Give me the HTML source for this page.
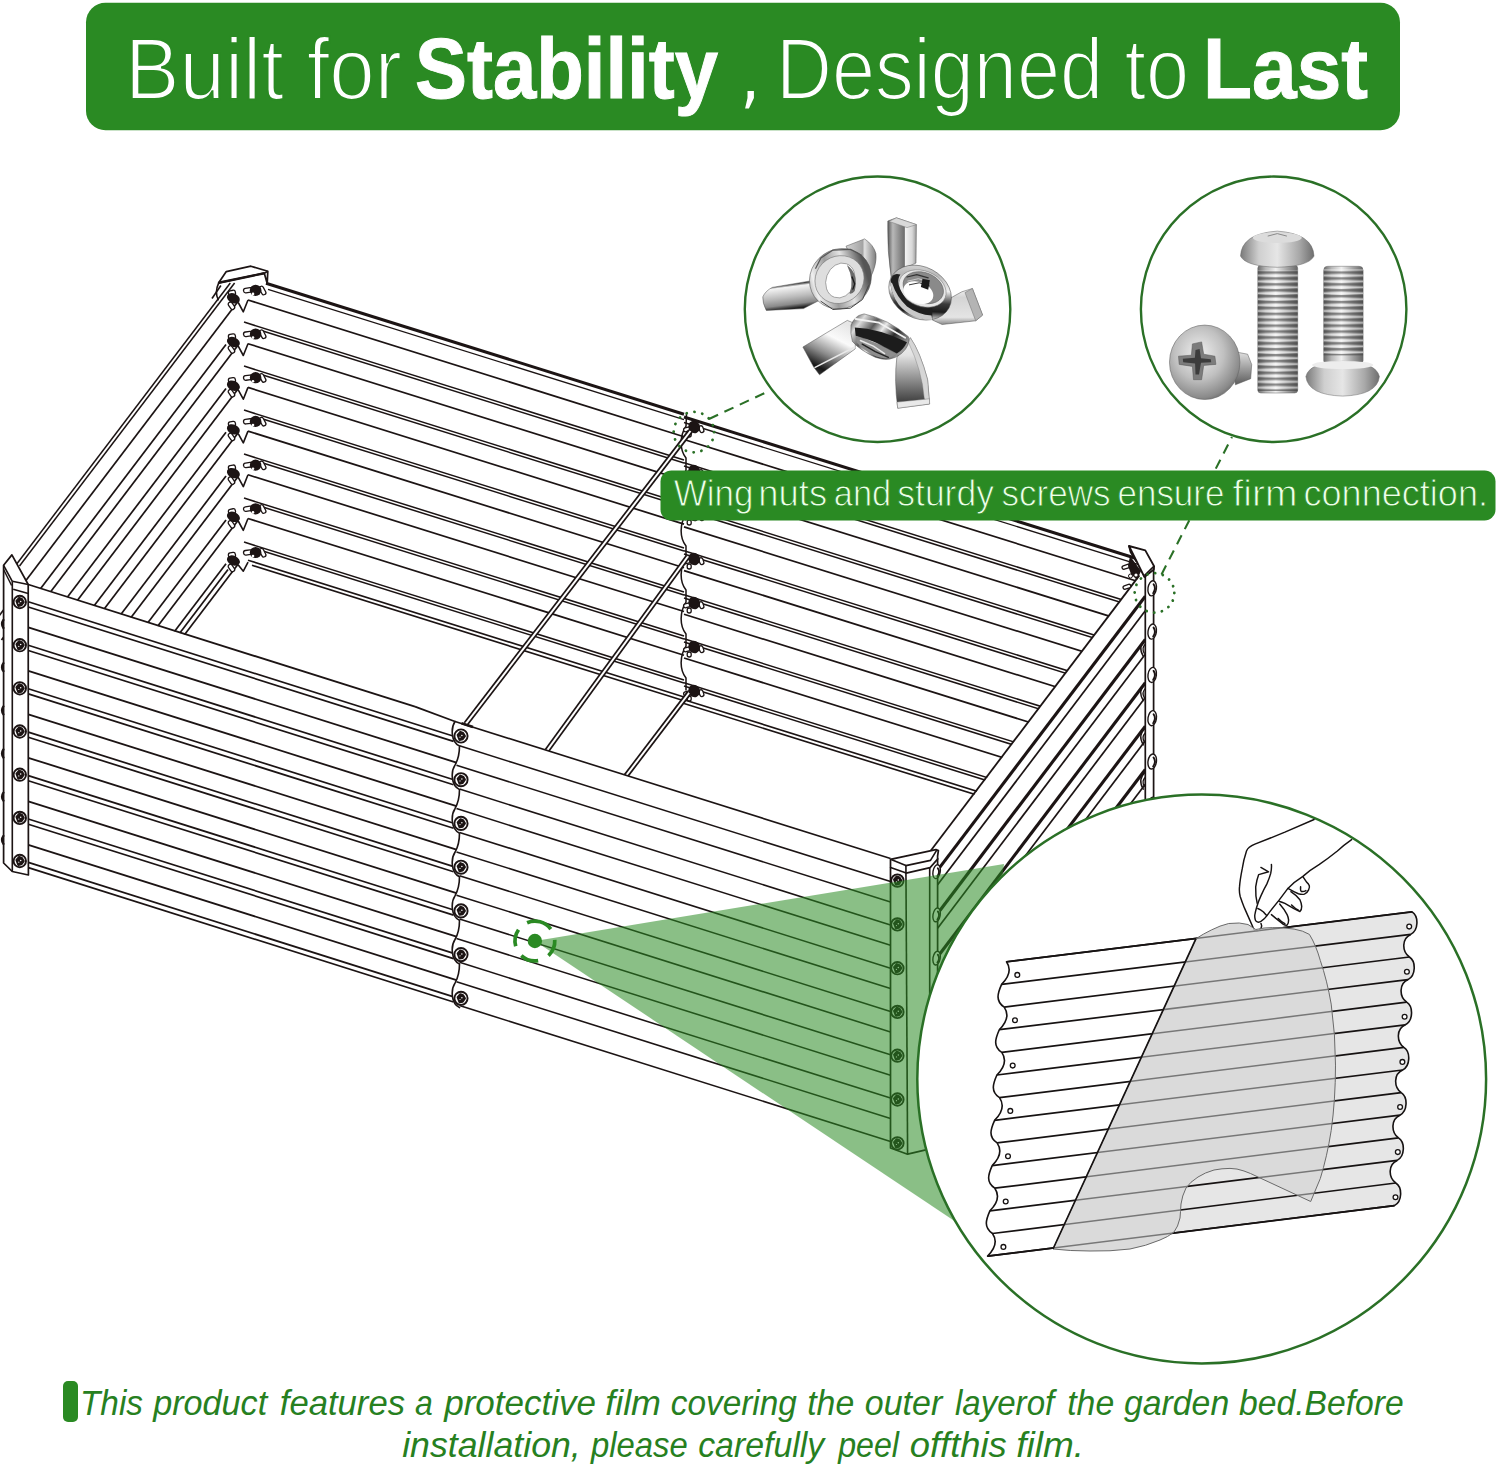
<!DOCTYPE html>
<html><head><meta charset="utf-8"><title>Built for Stability</title>
<style>html,body{margin:0;padding:0;background:#fff}body{width:1500px;height:1468px;position:relative;overflow:hidden;font-family:"Liberation Sans",sans-serif}</style>
</head><body>
<svg width="1500" height="1468" viewBox="0 0 1500 1468" style="position:absolute;left:0;top:0">
<rect width="1500" height="1468" fill="#fff"/>
<line x1="266.0" y1="283.2" x2="684.0" y2="414.2" stroke="#1c1414" stroke-width="3.02" />
<line x1="684.0" y1="417.0" x2="1150.0" y2="562.7" stroke="#1c1414" stroke-width="3.02" />
<line x1="268.0" y1="289.3" x2="684.0" y2="419.7" stroke="#1c1414" stroke-width="1.32" />
<line x1="684.0" y1="422.5" x2="1150.0" y2="568.2" stroke="#1c1414" stroke-width="1.32" />
<line x1="248.0" y1="300.0" x2="684.0" y2="436.7" stroke="#1c1414" stroke-width="1.72" />
<line x1="684.0" y1="439.5" x2="1150.0" y2="585.2" stroke="#1c1414" stroke-width="1.72" />
<line x1="248.0" y1="343.7" x2="684.0" y2="480.4" stroke="#1c1414" stroke-width="1.72" />
<line x1="684.0" y1="483.2" x2="1150.0" y2="628.9" stroke="#1c1414" stroke-width="1.72" />
<line x1="248.0" y1="387.4" x2="684.0" y2="524.1" stroke="#1c1414" stroke-width="1.72" />
<line x1="684.0" y1="526.9" x2="1150.0" y2="672.6" stroke="#1c1414" stroke-width="1.72" />
<line x1="248.0" y1="431.1" x2="684.0" y2="567.8" stroke="#1c1414" stroke-width="1.72" />
<line x1="684.0" y1="570.6" x2="1150.0" y2="716.3" stroke="#1c1414" stroke-width="1.72" />
<line x1="248.0" y1="474.8" x2="684.0" y2="611.5" stroke="#1c1414" stroke-width="1.72" />
<line x1="684.0" y1="614.3" x2="1150.0" y2="760.0" stroke="#1c1414" stroke-width="1.72" />
<line x1="248.0" y1="518.5" x2="684.0" y2="655.2" stroke="#1c1414" stroke-width="1.72" />
<line x1="684.0" y1="658.0" x2="1150.0" y2="803.7" stroke="#1c1414" stroke-width="1.72" />
<line x1="248.0" y1="560.2" x2="684.0" y2="696.9" stroke="#1c1414" stroke-width="1.62" />
<line x1="684.0" y1="699.7" x2="1150.0" y2="845.4" stroke="#1c1414" stroke-width="1.62" />
<line x1="252.0" y1="565.3" x2="684.0" y2="700.7" stroke="#1c1414" stroke-width="1.62" />
<line x1="684.0" y1="703.5" x2="1150.0" y2="849.2" stroke="#1c1414" stroke-width="1.62" />
<line x1="244.0" y1="322.1" x2="684.0" y2="460.0" stroke="#1c1414" stroke-width="1.52" />
<line x1="684.0" y1="462.8" x2="1150.0" y2="608.5" stroke="#1c1414" stroke-width="1.52" />
<line x1="262.0" y1="330.8" x2="684.0" y2="463.1" stroke="#1c1414" stroke-width="1.52" />
<line x1="684.0" y1="465.9" x2="1150.0" y2="611.6" stroke="#1c1414" stroke-width="1.52" />
<line x1="244.0" y1="366.1" x2="684.0" y2="504.0" stroke="#1c1414" stroke-width="1.52" />
<line x1="684.0" y1="506.8" x2="1150.0" y2="652.5" stroke="#1c1414" stroke-width="1.52" />
<line x1="262.0" y1="374.8" x2="684.0" y2="507.1" stroke="#1c1414" stroke-width="1.52" />
<line x1="684.0" y1="509.9" x2="1150.0" y2="655.6" stroke="#1c1414" stroke-width="1.52" />
<line x1="244.0" y1="410.1" x2="684.0" y2="548.0" stroke="#1c1414" stroke-width="1.52" />
<line x1="684.0" y1="550.8" x2="1150.0" y2="696.5" stroke="#1c1414" stroke-width="1.52" />
<line x1="262.0" y1="418.8" x2="684.0" y2="551.1" stroke="#1c1414" stroke-width="1.52" />
<line x1="684.0" y1="553.9" x2="1150.0" y2="699.6" stroke="#1c1414" stroke-width="1.52" />
<line x1="244.0" y1="454.1" x2="684.0" y2="592.0" stroke="#1c1414" stroke-width="1.52" />
<line x1="684.0" y1="594.8" x2="1150.0" y2="740.5" stroke="#1c1414" stroke-width="1.52" />
<line x1="262.0" y1="462.8" x2="684.0" y2="595.1" stroke="#1c1414" stroke-width="1.52" />
<line x1="684.0" y1="597.9" x2="1150.0" y2="743.6" stroke="#1c1414" stroke-width="1.52" />
<line x1="244.0" y1="498.1" x2="684.0" y2="636.0" stroke="#1c1414" stroke-width="1.52" />
<line x1="684.0" y1="638.8" x2="1150.0" y2="784.5" stroke="#1c1414" stroke-width="1.52" />
<line x1="262.0" y1="506.8" x2="684.0" y2="639.1" stroke="#1c1414" stroke-width="1.52" />
<line x1="684.0" y1="641.9" x2="1150.0" y2="787.6" stroke="#1c1414" stroke-width="1.52" />
<line x1="244.0" y1="542.1" x2="684.0" y2="680.0" stroke="#1c1414" stroke-width="1.52" />
<line x1="684.0" y1="682.8" x2="1150.0" y2="828.5" stroke="#1c1414" stroke-width="1.52" />
<line x1="262.0" y1="550.8" x2="684.0" y2="683.1" stroke="#1c1414" stroke-width="1.52" />
<line x1="684.0" y1="685.9" x2="1150.0" y2="831.6" stroke="#1c1414" stroke-width="1.52" />
<line x1="230.3" y1="283.0" x2="15.2" y2="566.0" stroke="#1c1414" stroke-width="1.52" />
<line x1="234.6" y1="283.0" x2="19.5" y2="566.0" stroke="#1c1414" stroke-width="1.52" />
<line x1="238.0" y1="301.4" x2="-19.3" y2="640.0" stroke="#1c1414" stroke-width="1.72" />
<line x1="238.0" y1="345.3" x2="14.0" y2="640.0" stroke="#1c1414" stroke-width="1.72" />
<line x1="238.0" y1="389.1" x2="47.3" y2="640.0" stroke="#1c1414" stroke-width="1.72" />
<line x1="238.0" y1="432.9" x2="80.6" y2="640.0" stroke="#1c1414" stroke-width="1.72" />
<line x1="238.0" y1="476.7" x2="113.9" y2="640.0" stroke="#1c1414" stroke-width="1.72" />
<line x1="238.0" y1="520.5" x2="147.2" y2="640.0" stroke="#1c1414" stroke-width="1.72" />
<line x1="238.0" y1="564.3" x2="180.5" y2="640.0" stroke="#1c1414" stroke-width="1.72" />
<line x1="226.0" y1="344.6" x2="1.5" y2="640.0" stroke="#1c1414" stroke-width="1.72" />
<line x1="226.0" y1="388.4" x2="34.8" y2="640.0" stroke="#1c1414" stroke-width="1.72" />
<line x1="226.0" y1="432.2" x2="68.1" y2="640.0" stroke="#1c1414" stroke-width="1.72" />
<line x1="226.0" y1="476.1" x2="101.4" y2="640.0" stroke="#1c1414" stroke-width="1.72" />
<line x1="226.0" y1="519.9" x2="134.7" y2="640.0" stroke="#1c1414" stroke-width="1.72" />
<line x1="226.0" y1="563.7" x2="168.0" y2="640.0" stroke="#1c1414" stroke-width="1.72" />
<line x1="228.0" y1="569.6" x2="174.5" y2="640.0" stroke="#1c1414" stroke-width="1.72" />
<path d="M238.5 303.0 L243.3 311.8 L247.8 300.5" fill="none" stroke="#1c1414" stroke-width="1.62" stroke-linejoin="round" stroke-linecap="round" />
<g transform="translate(233.4 298.3)"><rect x="-4" y="-8" width="7" height="5" rx="2" fill="#fff" stroke="#1c1414" stroke-width="1.3" transform="rotate(-10)"/><rect x="-8" y="1" width="4.2" height="8" rx="2" fill="#fff" stroke="#1c1414" stroke-width="1.3" transform="rotate(-35)"/><ellipse rx="6.8" ry="4.8" fill="#1c1414" transform="rotate(25)"/></g>
<g transform="translate(255.6 290.3)"><rect x="-12" y="-3.4" width="9" height="4.6" rx="2.2" fill="#fff" stroke="#1c1414" stroke-width="1.3" transform="rotate(-8)"/><rect x="4" y="-1" width="4.2" height="9" rx="2" fill="#fff" stroke="#1c1414" stroke-width="1.3" transform="rotate(-28)"/><ellipse rx="5.8" ry="5.6" fill="#1c1414"/><circle cx="-2.6" cy="3.6" r="1.3" fill="#fff"/></g>
<path d="M238.5 346.7 L243.3 355.5 L247.8 344.2" fill="none" stroke="#1c1414" stroke-width="1.62" stroke-linejoin="round" stroke-linecap="round" />
<g transform="translate(233.4 342.0)"><rect x="-4" y="-8" width="7" height="5" rx="2" fill="#fff" stroke="#1c1414" stroke-width="1.3" transform="rotate(-10)"/><rect x="-8" y="1" width="4.2" height="8" rx="2" fill="#fff" stroke="#1c1414" stroke-width="1.3" transform="rotate(-35)"/><ellipse rx="6.8" ry="4.8" fill="#1c1414" transform="rotate(25)"/></g>
<g transform="translate(255.6 334.0)"><rect x="-12" y="-3.4" width="9" height="4.6" rx="2.2" fill="#fff" stroke="#1c1414" stroke-width="1.3" transform="rotate(-8)"/><rect x="4" y="-1" width="4.2" height="9" rx="2" fill="#fff" stroke="#1c1414" stroke-width="1.3" transform="rotate(-28)"/><ellipse rx="5.8" ry="5.6" fill="#1c1414"/><circle cx="-2.6" cy="3.6" r="1.3" fill="#fff"/></g>
<path d="M238.5 390.4 L243.3 399.2 L247.8 387.9" fill="none" stroke="#1c1414" stroke-width="1.62" stroke-linejoin="round" stroke-linecap="round" />
<g transform="translate(233.4 385.7)"><rect x="-4" y="-8" width="7" height="5" rx="2" fill="#fff" stroke="#1c1414" stroke-width="1.3" transform="rotate(-10)"/><rect x="-8" y="1" width="4.2" height="8" rx="2" fill="#fff" stroke="#1c1414" stroke-width="1.3" transform="rotate(-35)"/><ellipse rx="6.8" ry="4.8" fill="#1c1414" transform="rotate(25)"/></g>
<g transform="translate(255.6 377.7)"><rect x="-12" y="-3.4" width="9" height="4.6" rx="2.2" fill="#fff" stroke="#1c1414" stroke-width="1.3" transform="rotate(-8)"/><rect x="4" y="-1" width="4.2" height="9" rx="2" fill="#fff" stroke="#1c1414" stroke-width="1.3" transform="rotate(-28)"/><ellipse rx="5.8" ry="5.6" fill="#1c1414"/><circle cx="-2.6" cy="3.6" r="1.3" fill="#fff"/></g>
<path d="M238.5 434.1 L243.3 442.9 L247.8 431.6" fill="none" stroke="#1c1414" stroke-width="1.62" stroke-linejoin="round" stroke-linecap="round" />
<g transform="translate(233.4 429.4)"><rect x="-4" y="-8" width="7" height="5" rx="2" fill="#fff" stroke="#1c1414" stroke-width="1.3" transform="rotate(-10)"/><rect x="-8" y="1" width="4.2" height="8" rx="2" fill="#fff" stroke="#1c1414" stroke-width="1.3" transform="rotate(-35)"/><ellipse rx="6.8" ry="4.8" fill="#1c1414" transform="rotate(25)"/></g>
<g transform="translate(255.6 421.4)"><rect x="-12" y="-3.4" width="9" height="4.6" rx="2.2" fill="#fff" stroke="#1c1414" stroke-width="1.3" transform="rotate(-8)"/><rect x="4" y="-1" width="4.2" height="9" rx="2" fill="#fff" stroke="#1c1414" stroke-width="1.3" transform="rotate(-28)"/><ellipse rx="5.8" ry="5.6" fill="#1c1414"/><circle cx="-2.6" cy="3.6" r="1.3" fill="#fff"/></g>
<path d="M238.5 477.8 L243.3 486.6 L247.8 475.3" fill="none" stroke="#1c1414" stroke-width="1.62" stroke-linejoin="round" stroke-linecap="round" />
<g transform="translate(233.4 473.1)"><rect x="-4" y="-8" width="7" height="5" rx="2" fill="#fff" stroke="#1c1414" stroke-width="1.3" transform="rotate(-10)"/><rect x="-8" y="1" width="4.2" height="8" rx="2" fill="#fff" stroke="#1c1414" stroke-width="1.3" transform="rotate(-35)"/><ellipse rx="6.8" ry="4.8" fill="#1c1414" transform="rotate(25)"/></g>
<g transform="translate(255.6 465.1)"><rect x="-12" y="-3.4" width="9" height="4.6" rx="2.2" fill="#fff" stroke="#1c1414" stroke-width="1.3" transform="rotate(-8)"/><rect x="4" y="-1" width="4.2" height="9" rx="2" fill="#fff" stroke="#1c1414" stroke-width="1.3" transform="rotate(-28)"/><ellipse rx="5.8" ry="5.6" fill="#1c1414"/><circle cx="-2.6" cy="3.6" r="1.3" fill="#fff"/></g>
<path d="M238.5 521.5 L243.3 530.3 L247.8 519.0" fill="none" stroke="#1c1414" stroke-width="1.62" stroke-linejoin="round" stroke-linecap="round" />
<g transform="translate(233.4 516.8)"><rect x="-4" y="-8" width="7" height="5" rx="2" fill="#fff" stroke="#1c1414" stroke-width="1.3" transform="rotate(-10)"/><rect x="-8" y="1" width="4.2" height="8" rx="2" fill="#fff" stroke="#1c1414" stroke-width="1.3" transform="rotate(-35)"/><ellipse rx="6.8" ry="4.8" fill="#1c1414" transform="rotate(25)"/></g>
<g transform="translate(255.6 508.8)"><rect x="-12" y="-3.4" width="9" height="4.6" rx="2.2" fill="#fff" stroke="#1c1414" stroke-width="1.3" transform="rotate(-8)"/><rect x="4" y="-1" width="4.2" height="9" rx="2" fill="#fff" stroke="#1c1414" stroke-width="1.3" transform="rotate(-28)"/><ellipse rx="5.8" ry="5.6" fill="#1c1414"/><circle cx="-2.6" cy="3.6" r="1.3" fill="#fff"/></g>
<path d="M238.5 565.2 L243.3 571.2 L247.8 562.7" fill="none" stroke="#1c1414" stroke-width="1.62" stroke-linejoin="round" stroke-linecap="round" />
<g transform="translate(233.4 560.5)"><rect x="-4" y="-8" width="7" height="5" rx="2" fill="#fff" stroke="#1c1414" stroke-width="1.3" transform="rotate(-10)"/><rect x="-8" y="1" width="4.2" height="8" rx="2" fill="#fff" stroke="#1c1414" stroke-width="1.3" transform="rotate(-35)"/><ellipse rx="6.8" ry="4.8" fill="#1c1414" transform="rotate(25)"/></g>
<g transform="translate(255.6 552.5)"><rect x="-12" y="-3.4" width="9" height="4.6" rx="2.2" fill="#fff" stroke="#1c1414" stroke-width="1.3" transform="rotate(-8)"/><rect x="4" y="-1" width="4.2" height="9" rx="2" fill="#fff" stroke="#1c1414" stroke-width="1.3" transform="rotate(-28)"/><ellipse rx="5.8" ry="5.6" fill="#1c1414"/><circle cx="-2.6" cy="3.6" r="1.3" fill="#fff"/></g>
<path d="M218.7 282.8 L226.3 271.6 L250.9 266.2 L267.8 271.3 L267.2 283.6 L264.3 273.2 Z" fill="#fff" stroke="#1c1414" stroke-width="1.72" stroke-linejoin="round" />
<line x1="218.7" y1="282.8" x2="264.3" y2="273.2" stroke="#1c1414" stroke-width="2.42" />
<line x1="264.3" y1="273.2" x2="267.8" y2="271.3" stroke="#1c1414" stroke-width="1.62" />
<path d="M218.7 282.8 Q214.5 292 218.2 299.7" fill="none" stroke="#1c1414" stroke-width="1.62" stroke-linejoin="round" stroke-linecap="round" />
<line x1="220.9" y1="285.5" x2="212.0" y2="298.5" stroke="#1c1414" stroke-width="1.62" />
<path d="M686.5 414.1 L686.0 426.1 C679.5 436.1 679.5 450.1 686.0 458.1 L686.0 470.1 C679.5 480.1 679.5 494.1 686.0 502.1 L686.0 514.1 C679.5 524.1 679.5 538.1 686.0 546.1 L686.0 558.1 C679.5 568.1 679.5 582.1 686.0 590.1 L686.0 602.1 C679.5 612.1 679.5 626.1 686.0 634.1 L686.0 646.1 C679.5 656.1 679.5 670.1 686.0 678.1 L686.0 690.1" fill="none" stroke="#1c1414" stroke-width="1.52" stroke-linejoin="round" stroke-linecap="round" />
<g transform="translate(694.2 427.0)"><rect x="-11" y="-1.5" width="7" height="4" rx="2" fill="#fff" stroke="#1c1414" stroke-width="1.3" transform="rotate(-15)"/><rect x="4" y="1" width="4" height="7" rx="2" fill="#fff" stroke="#1c1414" stroke-width="1.3" transform="rotate(-20)"/><rect x="-7" y="5" width="4" height="5" rx="2" fill="#fff" stroke="#1c1414" stroke-width="1.3"/><ellipse rx="5.8" ry="6.4" fill="#1c1414" transform="rotate(-25)"/></g>
<g transform="translate(694.2 471.0)"><rect x="-11" y="-1.5" width="7" height="4" rx="2" fill="#fff" stroke="#1c1414" stroke-width="1.3" transform="rotate(-15)"/><rect x="4" y="1" width="4" height="7" rx="2" fill="#fff" stroke="#1c1414" stroke-width="1.3" transform="rotate(-20)"/><rect x="-7" y="5" width="4" height="5" rx="2" fill="#fff" stroke="#1c1414" stroke-width="1.3"/><ellipse rx="5.8" ry="6.4" fill="#1c1414" transform="rotate(-25)"/></g>
<g transform="translate(694.2 515.0)"><rect x="-11" y="-1.5" width="7" height="4" rx="2" fill="#fff" stroke="#1c1414" stroke-width="1.3" transform="rotate(-15)"/><rect x="4" y="1" width="4" height="7" rx="2" fill="#fff" stroke="#1c1414" stroke-width="1.3" transform="rotate(-20)"/><rect x="-7" y="5" width="4" height="5" rx="2" fill="#fff" stroke="#1c1414" stroke-width="1.3"/><ellipse rx="5.8" ry="6.4" fill="#1c1414" transform="rotate(-25)"/></g>
<g transform="translate(694.2 559.0)"><rect x="-11" y="-1.5" width="7" height="4" rx="2" fill="#fff" stroke="#1c1414" stroke-width="1.3" transform="rotate(-15)"/><rect x="4" y="1" width="4" height="7" rx="2" fill="#fff" stroke="#1c1414" stroke-width="1.3" transform="rotate(-20)"/><rect x="-7" y="5" width="4" height="5" rx="2" fill="#fff" stroke="#1c1414" stroke-width="1.3"/><ellipse rx="5.8" ry="6.4" fill="#1c1414" transform="rotate(-25)"/></g>
<g transform="translate(694.2 603.0)"><rect x="-11" y="-1.5" width="7" height="4" rx="2" fill="#fff" stroke="#1c1414" stroke-width="1.3" transform="rotate(-15)"/><rect x="4" y="1" width="4" height="7" rx="2" fill="#fff" stroke="#1c1414" stroke-width="1.3" transform="rotate(-20)"/><rect x="-7" y="5" width="4" height="5" rx="2" fill="#fff" stroke="#1c1414" stroke-width="1.3"/><ellipse rx="5.8" ry="6.4" fill="#1c1414" transform="rotate(-25)"/></g>
<g transform="translate(694.2 647.0)"><rect x="-11" y="-1.5" width="7" height="4" rx="2" fill="#fff" stroke="#1c1414" stroke-width="1.3" transform="rotate(-15)"/><rect x="4" y="1" width="4" height="7" rx="2" fill="#fff" stroke="#1c1414" stroke-width="1.3" transform="rotate(-20)"/><rect x="-7" y="5" width="4" height="5" rx="2" fill="#fff" stroke="#1c1414" stroke-width="1.3"/><ellipse rx="5.8" ry="6.4" fill="#1c1414" transform="rotate(-25)"/></g>
<g transform="translate(694.2 691.0)"><rect x="-11" y="-1.5" width="7" height="4" rx="2" fill="#fff" stroke="#1c1414" stroke-width="1.3" transform="rotate(-15)"/><rect x="4" y="1" width="4" height="7" rx="2" fill="#fff" stroke="#1c1414" stroke-width="1.3" transform="rotate(-20)"/><rect x="-7" y="5" width="4" height="5" rx="2" fill="#fff" stroke="#1c1414" stroke-width="1.3"/><ellipse rx="5.8" ry="6.4" fill="#1c1414" transform="rotate(-25)"/></g>
<line x1="690.5" y1="431.0" x2="465.8" y2="723.9" stroke="#1c1414" stroke-width="5.4"/>
<line x1="690.5" y1="431.0" x2="465.8" y2="723.9" stroke="#fff" stroke-width="2.0"/>
<line x1="687.5" y1="557.0" x2="546.9" y2="750.6" stroke="#1c1414" stroke-width="5.4"/>
<line x1="687.5" y1="557.0" x2="546.9" y2="750.6" stroke="#fff" stroke-width="2.0"/>
<line x1="689.0" y1="693.0" x2="622.0" y2="781.0" stroke="#1c1414" stroke-width="5.4"/>
<line x1="689.0" y1="693.0" x2="622.0" y2="781.0" stroke="#fff" stroke-width="2.0"/>
<path d="M933.0 849.5 L1139.4 575.4 L1146.0 575.0 L1146.0 880.0 L937.0 1160.0 Z" fill="#fff" stroke="none" stroke-width="1.30" stroke-linejoin="round" />
<line x1="930.5" y1="851.0" x2="1139.4" y2="575.4" stroke="#1c1414" stroke-width="1.82" />
<line x1="938.6" y1="868.9" x2="1145.3" y2="596.2" stroke="#1c1414" stroke-width="3.12" />
<line x1="938.6" y1="912.2" x2="1145.3" y2="639.5" stroke="#1c1414" stroke-width="3.12" />
<line x1="938.6" y1="955.5" x2="1145.3" y2="682.8" stroke="#1c1414" stroke-width="3.12" />
<line x1="938.6" y1="998.9" x2="1145.3" y2="726.2" stroke="#1c1414" stroke-width="3.12" />
<line x1="938.6" y1="1042.2" x2="1145.3" y2="769.5" stroke="#1c1414" stroke-width="3.12" />
<line x1="938.6" y1="1085.6" x2="1145.3" y2="812.9" stroke="#1c1414" stroke-width="3.12" />
<line x1="938.6" y1="1128.9" x2="1145.3" y2="856.2" stroke="#1c1414" stroke-width="3.12" />
<line x1="937.6" y1="884.8" x2="1145.3" y2="610.8" stroke="#1c1414" stroke-width="1.72" />
<line x1="937.6" y1="928.2" x2="1145.3" y2="654.2" stroke="#1c1414" stroke-width="1.72" />
<line x1="937.6" y1="971.5" x2="1145.3" y2="697.5" stroke="#1c1414" stroke-width="1.72" />
<line x1="937.6" y1="1014.8" x2="1145.3" y2="740.8" stroke="#1c1414" stroke-width="1.72" />
<line x1="937.6" y1="1058.2" x2="1145.3" y2="784.2" stroke="#1c1414" stroke-width="1.72" />
<line x1="937.6" y1="1101.5" x2="1145.3" y2="827.5" stroke="#1c1414" stroke-width="1.72" />
<line x1="937.6" y1="1144.9" x2="1145.3" y2="870.8" stroke="#1c1414" stroke-width="1.72" />
<path d="M1145.3 639.3 Q1137.3 646.3 1143.3 656.3" fill="none" stroke="#1c1414" stroke-width="1.42" stroke-linejoin="round" stroke-linecap="round" />
<path d="M1145.3 644.3 Q1141.3 648.3 1144.3 653.3" fill="none" stroke="#1c1414" stroke-width="1.32" stroke-linejoin="round" stroke-linecap="round" />
<path d="M1145.3 683.6 Q1137.3 690.6 1143.3 700.6" fill="none" stroke="#1c1414" stroke-width="1.42" stroke-linejoin="round" stroke-linecap="round" />
<path d="M1145.3 688.6 Q1141.3 692.6 1144.3 697.6" fill="none" stroke="#1c1414" stroke-width="1.32" stroke-linejoin="round" stroke-linecap="round" />
<path d="M1145.3 727.9 Q1137.3 734.9 1143.3 744.9" fill="none" stroke="#1c1414" stroke-width="1.42" stroke-linejoin="round" stroke-linecap="round" />
<path d="M1145.3 732.9 Q1141.3 736.9 1144.3 741.9" fill="none" stroke="#1c1414" stroke-width="1.32" stroke-linejoin="round" stroke-linecap="round" />
<path d="M1145.3 772.2 Q1137.3 779.2 1143.3 789.2" fill="none" stroke="#1c1414" stroke-width="1.42" stroke-linejoin="round" stroke-linecap="round" />
<path d="M1145.3 777.2 Q1141.3 781.2 1144.3 786.2" fill="none" stroke="#1c1414" stroke-width="1.32" stroke-linejoin="round" stroke-linecap="round" />
<path d="M1145.3 816.5 Q1137.3 823.5 1143.3 833.5" fill="none" stroke="#1c1414" stroke-width="1.42" stroke-linejoin="round" stroke-linecap="round" />
<path d="M1145.3 821.5 Q1141.3 825.5 1144.3 830.5" fill="none" stroke="#1c1414" stroke-width="1.32" stroke-linejoin="round" stroke-linecap="round" />
<path d="M1145.3 860.8 Q1137.3 867.8 1143.3 877.8" fill="none" stroke="#1c1414" stroke-width="1.42" stroke-linejoin="round" stroke-linecap="round" />
<path d="M1145.3 865.8 Q1141.3 869.8 1144.3 874.8" fill="none" stroke="#1c1414" stroke-width="1.32" stroke-linejoin="round" stroke-linecap="round" />
<path d="M1145.3 576.0 L1153.6 568.0 L1153.6 880.0 L1145.3 880.0 Z" fill="#fff" stroke="#1c1414" stroke-width="1.72" stroke-linejoin="round" />
<ellipse cx="1152.2" cy="588.3" rx="4.2" ry="7.6" fill="#fff" stroke="#1c1414" stroke-width="1.4" transform="rotate(8 1152.2 588.3)"/>
<path d="M1153.6 584.3 Q1156.5 588.3 1153.2 593.3" fill="none" stroke="#1c1414" stroke-width="1.92" stroke-linejoin="round" stroke-linecap="round" />
<ellipse cx="1152.2" cy="631.6" rx="4.2" ry="7.6" fill="#fff" stroke="#1c1414" stroke-width="1.4" transform="rotate(8 1152.2 631.6)"/>
<path d="M1153.6 627.6 Q1156.5 631.6 1153.2 636.6" fill="none" stroke="#1c1414" stroke-width="1.92" stroke-linejoin="round" stroke-linecap="round" />
<ellipse cx="1152.2" cy="674.9" rx="4.2" ry="7.6" fill="#fff" stroke="#1c1414" stroke-width="1.4" transform="rotate(8 1152.2 674.9)"/>
<path d="M1153.6 670.9 Q1156.5 674.9 1153.2 679.9" fill="none" stroke="#1c1414" stroke-width="1.92" stroke-linejoin="round" stroke-linecap="round" />
<ellipse cx="1152.2" cy="718.2" rx="4.2" ry="7.6" fill="#fff" stroke="#1c1414" stroke-width="1.4" transform="rotate(8 1152.2 718.2)"/>
<path d="M1153.6 714.2 Q1156.5 718.2 1153.2 723.2" fill="none" stroke="#1c1414" stroke-width="1.92" stroke-linejoin="round" stroke-linecap="round" />
<ellipse cx="1152.2" cy="761.5" rx="4.2" ry="7.6" fill="#fff" stroke="#1c1414" stroke-width="1.4" transform="rotate(8 1152.2 761.5)"/>
<path d="M1153.6 757.5 Q1156.5 761.5 1153.2 766.5" fill="none" stroke="#1c1414" stroke-width="1.92" stroke-linejoin="round" stroke-linecap="round" />
<ellipse cx="1152.2" cy="804.8" rx="4.2" ry="7.6" fill="#fff" stroke="#1c1414" stroke-width="1.4" transform="rotate(8 1152.2 804.8)"/>
<path d="M1153.6 800.8 Q1156.5 804.8 1153.2 809.8" fill="none" stroke="#1c1414" stroke-width="1.92" stroke-linejoin="round" stroke-linecap="round" />
<ellipse cx="1152.2" cy="848.1" rx="4.2" ry="7.6" fill="#fff" stroke="#1c1414" stroke-width="1.4" transform="rotate(8 1152.2 848.1)"/>
<path d="M1153.6 844.1 Q1156.5 848.1 1153.2 853.1" fill="none" stroke="#1c1414" stroke-width="1.92" stroke-linejoin="round" stroke-linecap="round" />
<path d="M1129.0 546.0 L1145.3 550.4 L1154.1 566.2 L1153.8 569.5 L1144.4 577.0 Z" fill="#fff" stroke="#1c1414" stroke-width="1.82" stroke-linejoin="round" />
<line x1="1144.4" y1="575.5" x2="1154.1" y2="566.2" stroke="#1c1414" stroke-width="1.72" />
<path d="M1129 546 L1130.5 552 L1136 561" fill="none" stroke="#1c1414" stroke-width="1.72" stroke-linejoin="round" stroke-linecap="round" />
<g><rect x="1122" y="565" width="8" height="3.6" rx="1.8" fill="#fff" stroke="#1c1414" stroke-width="1.3" transform="rotate(-18 1126 567)"/><rect x="1123" y="585" width="8" height="3.6" rx="1.8" fill="#fff" stroke="#1c1414" stroke-width="1.3" transform="rotate(-18 1127 587)"/><path d="M1130 556 L1141 571 L1137 580 L1131 574 L1128 566 Z" fill="#1c1414"/><circle cx="1130.5" cy="576" r="2" fill="#fff" stroke="#1c1414" stroke-width="1"/><circle cx="1136" cy="575" r="1.6" fill="#fff"/></g>
<path d="M28.3 584.5 L455.0 721.5 L890.5 858.5 L890.5 1141.4 L460.0 1005.8 L452.0 1001.5 L28.3 867.6 Z" fill="#fff" stroke="none" stroke-width="1.30" stroke-linejoin="round" />
<line x1="28.3" y1="584.5" x2="415.0" y2="706.7" stroke="#1c1414" stroke-width="1.82" />
<line x1="415.0" y1="706.7" x2="455.0" y2="721.5" stroke="#1c1414" stroke-width="1.82" />
<line x1="28.3" y1="601.8" x2="452.2" y2="735.8" stroke="#1c1414" stroke-width="1.72" />
<line x1="28.3" y1="607.0" x2="453.5" y2="741.4" stroke="#1c1414" stroke-width="1.72" />
<line x1="28.3" y1="645.3" x2="452.2" y2="779.2" stroke="#1c1414" stroke-width="1.72" />
<line x1="28.3" y1="650.5" x2="453.5" y2="784.8" stroke="#1c1414" stroke-width="1.72" />
<line x1="28.3" y1="688.7" x2="452.2" y2="822.7" stroke="#1c1414" stroke-width="1.72" />
<line x1="28.3" y1="693.9" x2="453.5" y2="828.3" stroke="#1c1414" stroke-width="1.72" />
<line x1="28.3" y1="732.1" x2="452.2" y2="866.1" stroke="#1c1414" stroke-width="1.72" />
<line x1="28.3" y1="737.3" x2="453.5" y2="871.7" stroke="#1c1414" stroke-width="1.72" />
<line x1="28.3" y1="775.6" x2="452.2" y2="909.5" stroke="#1c1414" stroke-width="1.72" />
<line x1="28.3" y1="780.8" x2="453.5" y2="915.1" stroke="#1c1414" stroke-width="1.72" />
<line x1="28.3" y1="819.0" x2="452.2" y2="952.9" stroke="#1c1414" stroke-width="1.72" />
<line x1="28.3" y1="824.2" x2="453.5" y2="958.6" stroke="#1c1414" stroke-width="1.72" />
<line x1="28.3" y1="862.4" x2="452.2" y2="996.4" stroke="#1c1414" stroke-width="1.72" />
<line x1="28.3" y1="867.6" x2="453.5" y2="1002.0" stroke="#1c1414" stroke-width="1.72" />
<line x1="28.3" y1="627.3" x2="456.5" y2="762.7" stroke="#1c1414" stroke-width="1.82" />
<line x1="28.3" y1="670.8" x2="456.5" y2="806.2" stroke="#1c1414" stroke-width="1.82" />
<line x1="28.3" y1="714.3" x2="456.5" y2="849.7" stroke="#1c1414" stroke-width="1.82" />
<line x1="28.3" y1="757.8" x2="456.5" y2="893.2" stroke="#1c1414" stroke-width="1.82" />
<line x1="28.3" y1="801.3" x2="456.5" y2="936.7" stroke="#1c1414" stroke-width="1.82" />
<line x1="28.3" y1="844.8" x2="456.5" y2="980.2" stroke="#1c1414" stroke-width="1.82" />
<line x1="455.0" y1="721.5" x2="890.5" y2="858.5" stroke="#1c1414" stroke-width="1.62" />
<line x1="459.5" y1="745.8" x2="890.5" y2="881.6" stroke="#1c1414" stroke-width="1.57" />
<line x1="459.5" y1="789.1" x2="890.5" y2="924.9" stroke="#1c1414" stroke-width="1.57" />
<line x1="459.5" y1="832.4" x2="890.5" y2="968.2" stroke="#1c1414" stroke-width="1.57" />
<line x1="459.5" y1="875.7" x2="890.5" y2="1011.5" stroke="#1c1414" stroke-width="1.57" />
<line x1="459.5" y1="919.0" x2="890.5" y2="1054.8" stroke="#1c1414" stroke-width="1.57" />
<line x1="459.5" y1="962.3" x2="890.5" y2="1098.1" stroke="#1c1414" stroke-width="1.57" />
<line x1="459.5" y1="1005.6" x2="890.5" y2="1141.4" stroke="#1c1414" stroke-width="1.57" />
<line x1="456.5" y1="765.3" x2="890.5" y2="902.0" stroke="#1c1414" stroke-width="1.57" />
<line x1="456.5" y1="808.6" x2="890.5" y2="945.3" stroke="#1c1414" stroke-width="1.57" />
<line x1="456.5" y1="851.9" x2="890.5" y2="988.6" stroke="#1c1414" stroke-width="1.57" />
<line x1="456.5" y1="895.2" x2="890.5" y2="1031.9" stroke="#1c1414" stroke-width="1.57" />
<line x1="456.5" y1="938.5" x2="890.5" y2="1075.2" stroke="#1c1414" stroke-width="1.57" />
<line x1="456.5" y1="981.8" x2="890.5" y2="1118.5" stroke="#1c1414" stroke-width="1.57" />
<line x1="461.5" y1="723.3" x2="473.0" y2="727.0" stroke="#1c1414" stroke-width="2.62" />
<path d="M455.0 721.5 C451.0 727.5 450.5 741.5 459.5 746.0 C459.5 755.5 457.0 761.5 455.0 765.1 C451.0 771.1 450.5 785.1 459.5 789.6 C459.5 799.1 457.0 805.1 455.0 808.7 C451.0 814.7 450.5 828.7 459.5 833.2 C459.5 842.7 457.0 848.7 455.0 852.3 C451.0 858.3 450.5 872.3 459.5 876.8 C459.5 886.3 457.0 892.3 455.0 895.9 C451.0 901.9 450.5 915.9 459.5 920.4 C459.5 929.9 457.0 935.9 455.0 939.5 C451.0 945.5 450.5 959.5 459.5 964.0 C459.5 973.5 457.0 979.5 455.0 983.1 C451.0 989.1 450.5 1003.1 459.5 1007.6" fill="none" stroke="#1c1414" stroke-width="1.62" stroke-linejoin="round" stroke-linecap="round" />
<circle cx="461.0" cy="736.0" r="6.6" fill="#fff" stroke="#1c1414" stroke-width="1.9"/>
<path d="M457.8 735.0 l2.6 -3.0 l2.6 1.0 l1.8 3.0 l-2.2 3.2 l-3.0 .6 z" fill="#1c1414" stroke="#1c1414" stroke-width="2.3" stroke-linejoin="round"/>
<circle cx="461.9" cy="735.4" r="0.75" fill="#fff"/>
<circle cx="460.0" cy="737.2" r="0.6" fill="#fff"/>
<circle cx="461.0" cy="779.7" r="6.6" fill="#fff" stroke="#1c1414" stroke-width="1.9"/>
<path d="M457.8 778.7 l2.6 -3.0 l2.6 1.0 l1.8 3.0 l-2.2 3.2 l-3.0 .6 z" fill="#1c1414" stroke="#1c1414" stroke-width="2.3" stroke-linejoin="round"/>
<circle cx="461.9" cy="779.1" r="0.75" fill="#fff"/>
<circle cx="460.0" cy="780.9" r="0.6" fill="#fff"/>
<circle cx="461.0" cy="823.4" r="6.6" fill="#fff" stroke="#1c1414" stroke-width="1.9"/>
<path d="M457.8 822.4 l2.6 -3.0 l2.6 1.0 l1.8 3.0 l-2.2 3.2 l-3.0 .6 z" fill="#1c1414" stroke="#1c1414" stroke-width="2.3" stroke-linejoin="round"/>
<circle cx="461.9" cy="822.8" r="0.75" fill="#fff"/>
<circle cx="460.0" cy="824.6" r="0.6" fill="#fff"/>
<circle cx="461.0" cy="867.2" r="6.6" fill="#fff" stroke="#1c1414" stroke-width="1.9"/>
<path d="M457.8 866.2 l2.6 -3.0 l2.6 1.0 l1.8 3.0 l-2.2 3.2 l-3.0 .6 z" fill="#1c1414" stroke="#1c1414" stroke-width="2.3" stroke-linejoin="round"/>
<circle cx="461.9" cy="866.6" r="0.75" fill="#fff"/>
<circle cx="460.0" cy="868.4" r="0.6" fill="#fff"/>
<circle cx="461.0" cy="910.9" r="6.6" fill="#fff" stroke="#1c1414" stroke-width="1.9"/>
<path d="M457.8 909.9 l2.6 -3.0 l2.6 1.0 l1.8 3.0 l-2.2 3.2 l-3.0 .6 z" fill="#1c1414" stroke="#1c1414" stroke-width="2.3" stroke-linejoin="round"/>
<circle cx="461.9" cy="910.3" r="0.75" fill="#fff"/>
<circle cx="460.0" cy="912.1" r="0.6" fill="#fff"/>
<circle cx="461.0" cy="954.6" r="6.6" fill="#fff" stroke="#1c1414" stroke-width="1.9"/>
<path d="M457.8 953.6 l2.6 -3.0 l2.6 1.0 l1.8 3.0 l-2.2 3.2 l-3.0 .6 z" fill="#1c1414" stroke="#1c1414" stroke-width="2.3" stroke-linejoin="round"/>
<circle cx="461.9" cy="954.0" r="0.75" fill="#fff"/>
<circle cx="460.0" cy="955.8" r="0.6" fill="#fff"/>
<circle cx="461.0" cy="998.3" r="6.6" fill="#fff" stroke="#1c1414" stroke-width="1.9"/>
<path d="M457.8 997.3 l2.6 -3.0 l2.6 1.0 l1.8 3.0 l-2.2 3.2 l-3.0 .6 z" fill="#1c1414" stroke="#1c1414" stroke-width="2.3" stroke-linejoin="round"/>
<circle cx="461.9" cy="997.7" r="0.75" fill="#fff"/>
<circle cx="460.0" cy="999.5" r="0.6" fill="#fff"/>
<path d="M3.6 565.3 L11.9 554.9 L28.2 584.5 L28.4 875.0 L12.3 871.5 L3.6 863.0 Z" fill="#fff" stroke="#1c1414" stroke-width="1.72" stroke-linejoin="round" />
<line x1="12.3" y1="581.3" x2="12.3" y2="871.5" stroke="#1c1414" stroke-width="1.62" />
<line x1="3.6" y1="565.3" x2="12.3" y2="581.3" stroke="#1c1414" stroke-width="1.62" />
<line x1="12.3" y1="581.3" x2="28.2" y2="584.5" stroke="#1c1414" stroke-width="1.62" />
<line x1="3.6" y1="569.5" x2="11.6" y2="585.5" stroke="#1c1414" stroke-width="1.52" />
<line x1="13.2" y1="589.2" x2="28.2" y2="593.6" stroke="#1c1414" stroke-width="1.52" />
<circle cx="19.8" cy="602.0" r="6.2" fill="#fff" stroke="#1c1414" stroke-width="1.9"/>
<path d="M16.6 601.0 l2.6 -3.0 l2.6 1.0 l1.8 3.0 l-2.2 3.2 l-3.0 .6 z" fill="#1c1414" stroke="#1c1414" stroke-width="2.3" stroke-linejoin="round"/>
<circle cx="20.7" cy="601.4" r="0.75" fill="#fff"/>
<circle cx="18.8" cy="603.2" r="0.6" fill="#fff"/>
<path d="M3.4 620.0 q-2.8 4 0 8" fill="none" stroke="#1c1414" stroke-width="2.22" stroke-linejoin="round" stroke-linecap="round" />
<circle cx="19.8" cy="645.2" r="6.2" fill="#fff" stroke="#1c1414" stroke-width="1.9"/>
<path d="M16.6 644.2 l2.6 -3.0 l2.6 1.0 l1.8 3.0 l-2.2 3.2 l-3.0 .6 z" fill="#1c1414" stroke="#1c1414" stroke-width="2.3" stroke-linejoin="round"/>
<circle cx="20.7" cy="644.6" r="0.75" fill="#fff"/>
<circle cx="18.8" cy="646.4" r="0.6" fill="#fff"/>
<path d="M3.4 663.2 q-2.8 4 0 8" fill="none" stroke="#1c1414" stroke-width="2.22" stroke-linejoin="round" stroke-linecap="round" />
<circle cx="19.8" cy="688.3" r="6.2" fill="#fff" stroke="#1c1414" stroke-width="1.9"/>
<path d="M16.6 687.3 l2.6 -3.0 l2.6 1.0 l1.8 3.0 l-2.2 3.2 l-3.0 .6 z" fill="#1c1414" stroke="#1c1414" stroke-width="2.3" stroke-linejoin="round"/>
<circle cx="20.7" cy="687.7" r="0.75" fill="#fff"/>
<circle cx="18.8" cy="689.5" r="0.6" fill="#fff"/>
<path d="M3.4 706.3 q-2.8 4 0 8" fill="none" stroke="#1c1414" stroke-width="2.22" stroke-linejoin="round" stroke-linecap="round" />
<circle cx="19.8" cy="731.5" r="6.2" fill="#fff" stroke="#1c1414" stroke-width="1.9"/>
<path d="M16.6 730.5 l2.6 -3.0 l2.6 1.0 l1.8 3.0 l-2.2 3.2 l-3.0 .6 z" fill="#1c1414" stroke="#1c1414" stroke-width="2.3" stroke-linejoin="round"/>
<circle cx="20.7" cy="730.9" r="0.75" fill="#fff"/>
<circle cx="18.8" cy="732.7" r="0.6" fill="#fff"/>
<path d="M3.4 749.5 q-2.8 4 0 8" fill="none" stroke="#1c1414" stroke-width="2.22" stroke-linejoin="round" stroke-linecap="round" />
<circle cx="19.8" cy="774.7" r="6.2" fill="#fff" stroke="#1c1414" stroke-width="1.9"/>
<path d="M16.6 773.7 l2.6 -3.0 l2.6 1.0 l1.8 3.0 l-2.2 3.2 l-3.0 .6 z" fill="#1c1414" stroke="#1c1414" stroke-width="2.3" stroke-linejoin="round"/>
<circle cx="20.7" cy="774.1" r="0.75" fill="#fff"/>
<circle cx="18.8" cy="775.9" r="0.6" fill="#fff"/>
<path d="M3.4 792.7 q-2.8 4 0 8" fill="none" stroke="#1c1414" stroke-width="2.22" stroke-linejoin="round" stroke-linecap="round" />
<circle cx="19.8" cy="817.9" r="6.2" fill="#fff" stroke="#1c1414" stroke-width="1.9"/>
<path d="M16.6 816.9 l2.6 -3.0 l2.6 1.0 l1.8 3.0 l-2.2 3.2 l-3.0 .6 z" fill="#1c1414" stroke="#1c1414" stroke-width="2.3" stroke-linejoin="round"/>
<circle cx="20.7" cy="817.2" r="0.75" fill="#fff"/>
<circle cx="18.8" cy="819.1" r="0.6" fill="#fff"/>
<path d="M3.4 835.9 q-2.8 4 0 8" fill="none" stroke="#1c1414" stroke-width="2.22" stroke-linejoin="round" stroke-linecap="round" />
<circle cx="19.8" cy="861.0" r="6.2" fill="#fff" stroke="#1c1414" stroke-width="1.9"/>
<path d="M16.6 860.0 l2.6 -3.0 l2.6 1.0 l1.8 3.0 l-2.2 3.2 l-3.0 .6 z" fill="#1c1414" stroke="#1c1414" stroke-width="2.3" stroke-linejoin="round"/>
<circle cx="20.7" cy="860.4" r="0.75" fill="#fff"/>
<circle cx="18.8" cy="862.2" r="0.6" fill="#fff"/>
<path d="M890.5 859.3 L935.9 849.6 L938.4 850.6 L937.6 856.0 L937.6 1150.0 L924.7 1150.1 L907.6 1154.2 L890.5 1148.0 Z" fill="#fff" stroke="#1c1414" stroke-width="1.72" stroke-linejoin="round" />
<line x1="890.5" y1="859.3" x2="905.9" y2="865.6" stroke="#1c1414" stroke-width="1.62" />
<path d="M905.9 865.6 L930.5 860.4 L936.3 850.8" fill="none" stroke="#1c1414" stroke-width="1.62" stroke-linejoin="round" stroke-linecap="round" />
<path d="M890.6 867.6 L906.2 873.1 L930.1 867.6 L937.8 858.9" fill="none" stroke="#1c1414" stroke-width="1.62" stroke-linejoin="round" stroke-linecap="round" />
<line x1="905.9" y1="865.6" x2="907.6" y2="1154.2" stroke="#1c1414" stroke-width="1.62" />
<line x1="929.7" y1="867.8" x2="929.7" y2="1150.0" stroke="#1c1414" stroke-width="1.62" />
<circle cx="897.4" cy="880.6" r="6.2" fill="#fff" stroke="#1c1414" stroke-width="1.9"/>
<path d="M894.2 879.6 l2.6 -3.0 l2.6 1.0 l1.8 3.0 l-2.2 3.2 l-3.0 .6 z" fill="#1c1414" stroke="#1c1414" stroke-width="2.3" stroke-linejoin="round"/>
<circle cx="898.3" cy="880.0" r="0.75" fill="#fff"/>
<circle cx="896.4" cy="881.8" r="0.6" fill="#fff"/>
<ellipse cx="936.6" cy="871.7" rx="3.6" ry="7" fill="#fff" stroke="#1c1414" stroke-width="1.4" transform="rotate(10 936.6 871.7)"/>
<path d="M937.8 868.2 Q940.5 871.7 937.4 876.2" fill="none" stroke="#1c1414" stroke-width="1.82" stroke-linejoin="round" stroke-linecap="round" />
<circle cx="897.4" cy="924.4" r="6.2" fill="#fff" stroke="#1c1414" stroke-width="1.9"/>
<path d="M894.2 923.4 l2.6 -3.0 l2.6 1.0 l1.8 3.0 l-2.2 3.2 l-3.0 .6 z" fill="#1c1414" stroke="#1c1414" stroke-width="2.3" stroke-linejoin="round"/>
<circle cx="898.3" cy="923.8" r="0.75" fill="#fff"/>
<circle cx="896.4" cy="925.6" r="0.6" fill="#fff"/>
<ellipse cx="936.6" cy="914.9" rx="3.6" ry="7" fill="#fff" stroke="#1c1414" stroke-width="1.4" transform="rotate(10 936.6 914.9)"/>
<path d="M937.8 911.4 Q940.5 914.9 937.4 919.4" fill="none" stroke="#1c1414" stroke-width="1.82" stroke-linejoin="round" stroke-linecap="round" />
<circle cx="897.4" cy="968.2" r="6.2" fill="#fff" stroke="#1c1414" stroke-width="1.9"/>
<path d="M894.2 967.2 l2.6 -3.0 l2.6 1.0 l1.8 3.0 l-2.2 3.2 l-3.0 .6 z" fill="#1c1414" stroke="#1c1414" stroke-width="2.3" stroke-linejoin="round"/>
<circle cx="898.3" cy="967.6" r="0.75" fill="#fff"/>
<circle cx="896.4" cy="969.4" r="0.6" fill="#fff"/>
<ellipse cx="936.6" cy="958.1" rx="3.6" ry="7" fill="#fff" stroke="#1c1414" stroke-width="1.4" transform="rotate(10 936.6 958.1)"/>
<path d="M937.8 954.6 Q940.5 958.1 937.4 962.6" fill="none" stroke="#1c1414" stroke-width="1.82" stroke-linejoin="round" stroke-linecap="round" />
<circle cx="897.4" cy="1011.9" r="6.2" fill="#fff" stroke="#1c1414" stroke-width="1.9"/>
<path d="M894.2 1010.9 l2.6 -3.0 l2.6 1.0 l1.8 3.0 l-2.2 3.2 l-3.0 .6 z" fill="#1c1414" stroke="#1c1414" stroke-width="2.3" stroke-linejoin="round"/>
<circle cx="898.3" cy="1011.3" r="0.75" fill="#fff"/>
<circle cx="896.4" cy="1013.1" r="0.6" fill="#fff"/>
<ellipse cx="936.6" cy="1001.3" rx="3.6" ry="7" fill="#fff" stroke="#1c1414" stroke-width="1.4" transform="rotate(10 936.6 1001.3)"/>
<path d="M937.8 997.8 Q940.5 1001.3 937.4 1005.8" fill="none" stroke="#1c1414" stroke-width="1.82" stroke-linejoin="round" stroke-linecap="round" />
<circle cx="897.4" cy="1055.7" r="6.2" fill="#fff" stroke="#1c1414" stroke-width="1.9"/>
<path d="M894.2 1054.7 l2.6 -3.0 l2.6 1.0 l1.8 3.0 l-2.2 3.2 l-3.0 .6 z" fill="#1c1414" stroke="#1c1414" stroke-width="2.3" stroke-linejoin="round"/>
<circle cx="898.3" cy="1055.1" r="0.75" fill="#fff"/>
<circle cx="896.4" cy="1056.9" r="0.6" fill="#fff"/>
<ellipse cx="936.6" cy="1044.5" rx="3.6" ry="7" fill="#fff" stroke="#1c1414" stroke-width="1.4" transform="rotate(10 936.6 1044.5)"/>
<path d="M937.8 1041.0 Q940.5 1044.5 937.4 1049.0" fill="none" stroke="#1c1414" stroke-width="1.82" stroke-linejoin="round" stroke-linecap="round" />
<circle cx="897.4" cy="1099.5" r="6.2" fill="#fff" stroke="#1c1414" stroke-width="1.9"/>
<path d="M894.2 1098.5 l2.6 -3.0 l2.6 1.0 l1.8 3.0 l-2.2 3.2 l-3.0 .6 z" fill="#1c1414" stroke="#1c1414" stroke-width="2.3" stroke-linejoin="round"/>
<circle cx="898.3" cy="1098.9" r="0.75" fill="#fff"/>
<circle cx="896.4" cy="1100.7" r="0.6" fill="#fff"/>
<ellipse cx="936.6" cy="1087.7" rx="3.6" ry="7" fill="#fff" stroke="#1c1414" stroke-width="1.4" transform="rotate(10 936.6 1087.7)"/>
<path d="M937.8 1084.2 Q940.5 1087.7 937.4 1092.2" fill="none" stroke="#1c1414" stroke-width="1.82" stroke-linejoin="round" stroke-linecap="round" />
<circle cx="897.4" cy="1143.3" r="6.2" fill="#fff" stroke="#1c1414" stroke-width="1.9"/>
<path d="M894.2 1142.3 l2.6 -3.0 l2.6 1.0 l1.8 3.0 l-2.2 3.2 l-3.0 .6 z" fill="#1c1414" stroke="#1c1414" stroke-width="2.3" stroke-linejoin="round"/>
<circle cx="898.3" cy="1142.7" r="0.75" fill="#fff"/>
<circle cx="896.4" cy="1144.5" r="0.6" fill="#fff"/>
<ellipse cx="936.6" cy="1130.9" rx="3.6" ry="7" fill="#fff" stroke="#1c1414" stroke-width="1.4" transform="rotate(10 936.6 1130.9)"/>
<path d="M937.8 1127.4 Q940.5 1130.9 937.4 1135.4" fill="none" stroke="#1c1414" stroke-width="1.82" stroke-linejoin="round" stroke-linecap="round" />
<path d="M534.9 941.0 L1004 863.9 L956 1222 Z" fill="#2a8a23" fill-opacity="0.55"/>
<circle cx="534.9" cy="941.0" r="7.2" fill="#2a8a23"/>
<path d="M527.12 922.68 A19.9 19.9 0 0 1 550.79 929.02" fill="none" stroke="#2a8a23" stroke-width="3.7"/>
<path d="M554.77 939.96 A19.9 19.9 0 0 1 548.47 955.55" fill="none" stroke="#2a8a23" stroke-width="3.7"/>
<path d="M538.18 960.63 A19.9 19.9 0 0 1 521.33 955.55" fill="none" stroke="#2a8a23" stroke-width="3.7"/>
<path d="M515.72 946.32 A19.9 19.9 0 0 1 518.50 929.73" fill="none" stroke="#2a8a23" stroke-width="3.7"/>
<circle cx="1201.7" cy="1079" r="284.4" fill="#fff" stroke="#2a7026" stroke-width="2.5"/>
<g>
<clipPath id="pclip"><path d="M1006.5 961.8 L1412.1 911.8 C1418.9 916.3 1418.6 930.3 1410.7 934.4 C1401.7 938.4 1401.7 951.4 1409.4 957.0 C1416.2 961.5 1415.9 975.5 1408.0 979.6 C1399.0 983.6 1399.0 996.6 1406.7 1002.2 C1413.5 1006.7 1413.2 1020.7 1405.3 1024.8 C1396.3 1028.8 1396.3 1041.8 1403.9 1047.4 C1410.7 1051.9 1410.4 1065.9 1402.6 1070.0 C1393.6 1074.0 1393.6 1087.0 1401.2 1092.6 C1408.0 1097.1 1407.7 1111.1 1399.9 1115.2 C1390.9 1119.2 1390.9 1132.2 1398.5 1137.8 C1405.3 1142.3 1405.0 1156.3 1397.1 1160.4 C1388.1 1164.4 1388.1 1177.4 1395.8 1183.0 C1402.6 1187.5 1402.3 1201.5 1394.4 1205.6 L987.6 1256.1 C994.6 1249.1 998.0 1241.5 992.5 1233.5 C983.5 1227.5 985.9 1219.8 989.9 1210.8 C996.9 1203.8 1000.3 1196.2 994.8 1188.2 C985.8 1182.2 988.2 1174.6 992.2 1165.6 C999.2 1158.6 1002.6 1150.9 997.1 1142.9 C988.1 1136.9 990.6 1129.3 994.6 1120.3 C1001.6 1113.3 1005.0 1105.6 999.5 1097.6 C990.5 1091.6 992.9 1084.0 996.9 1075.0 C1003.9 1068.0 1007.3 1060.4 1001.8 1052.4 C992.8 1046.4 995.3 1038.7 999.3 1029.7 C1006.3 1022.7 1009.7 1015.1 1004.2 1007.1 C995.2 1001.1 997.6 993.4 1001.6 984.4 C1008.6 977.4 1012.0 969.8 1006.5 961.8 Z"/></clipPath>
<path d="M1006.5 961.8 L1412.1 911.8 C1418.9 916.3 1418.6 930.3 1410.7 934.4 C1401.7 938.4 1401.7 951.4 1409.4 957.0 C1416.2 961.5 1415.9 975.5 1408.0 979.6 C1399.0 983.6 1399.0 996.6 1406.7 1002.2 C1413.5 1006.7 1413.2 1020.7 1405.3 1024.8 C1396.3 1028.8 1396.3 1041.8 1403.9 1047.4 C1410.7 1051.9 1410.4 1065.9 1402.6 1070.0 C1393.6 1074.0 1393.6 1087.0 1401.2 1092.6 C1408.0 1097.1 1407.7 1111.1 1399.9 1115.2 C1390.9 1119.2 1390.9 1132.2 1398.5 1137.8 C1405.3 1142.3 1405.0 1156.3 1397.1 1160.4 C1388.1 1164.4 1388.1 1177.4 1395.8 1183.0 C1402.6 1187.5 1402.3 1201.5 1394.4 1205.6 L987.6 1256.1 C994.6 1249.1 998.0 1241.5 992.5 1233.5 C983.5 1227.5 985.9 1219.8 989.9 1210.8 C996.9 1203.8 1000.3 1196.2 994.8 1188.2 C985.8 1182.2 988.2 1174.6 992.2 1165.6 C999.2 1158.6 1002.6 1150.9 997.1 1142.9 C988.1 1136.9 990.6 1129.3 994.6 1120.3 C1001.6 1113.3 1005.0 1105.6 999.5 1097.6 C990.5 1091.6 992.9 1084.0 996.9 1075.0 C1003.9 1068.0 1007.3 1060.4 1001.8 1052.4 C992.8 1046.4 995.3 1038.7 999.3 1029.7 C1006.3 1022.7 1009.7 1015.1 1004.2 1007.1 C995.2 1001.1 997.6 993.4 1001.6 984.4 C1008.6 977.4 1012.0 969.8 1006.5 961.8 Z" fill="#fff"/>
<polygon points="1196,938.7 1053,1249 1060,1300 1460,1300 1460,880 1210,880" fill="#e6e6e6" clip-path="url(#pclip)"/>
<line x1="1006.5" y1="961.8" x2="1412.1" y2="911.8" stroke="#161212" stroke-width="1.7"/>
<line x1="1001.6" y1="984.4" x2="1410.7" y2="934.4" stroke="#161212" stroke-width="1.7"/>
<line x1="1004.2" y1="1007.1" x2="1409.4" y2="957.0" stroke="#161212" stroke-width="1.7"/>
<line x1="999.3" y1="1029.7" x2="1408.0" y2="979.6" stroke="#161212" stroke-width="1.7"/>
<line x1="1001.8" y1="1052.4" x2="1406.7" y2="1002.2" stroke="#161212" stroke-width="1.7"/>
<line x1="996.9" y1="1075.0" x2="1405.3" y2="1024.8" stroke="#161212" stroke-width="1.7"/>
<line x1="999.5" y1="1097.6" x2="1403.9" y2="1047.4" stroke="#161212" stroke-width="1.7"/>
<line x1="994.6" y1="1120.3" x2="1402.6" y2="1070.0" stroke="#161212" stroke-width="1.7"/>
<line x1="997.1" y1="1142.9" x2="1401.2" y2="1092.6" stroke="#161212" stroke-width="1.7"/>
<line x1="992.2" y1="1165.6" x2="1399.9" y2="1115.2" stroke="#161212" stroke-width="1.7"/>
<line x1="994.8" y1="1188.2" x2="1398.5" y2="1137.8" stroke="#161212" stroke-width="1.7"/>
<line x1="989.9" y1="1210.8" x2="1397.1" y2="1160.4" stroke="#161212" stroke-width="1.7"/>
<line x1="992.5" y1="1233.5" x2="1395.8" y2="1183.0" stroke="#161212" stroke-width="1.7"/>
<line x1="987.6" y1="1256.1" x2="1394.4" y2="1205.6" stroke="#161212" stroke-width="1.7"/>
<path d="M1006.5 961.8 L1412.1 911.8 C1418.9 916.3 1418.6 930.3 1410.7 934.4 C1401.7 938.4 1401.7 951.4 1409.4 957.0 C1416.2 961.5 1415.9 975.5 1408.0 979.6 C1399.0 983.6 1399.0 996.6 1406.7 1002.2 C1413.5 1006.7 1413.2 1020.7 1405.3 1024.8 C1396.3 1028.8 1396.3 1041.8 1403.9 1047.4 C1410.7 1051.9 1410.4 1065.9 1402.6 1070.0 C1393.6 1074.0 1393.6 1087.0 1401.2 1092.6 C1408.0 1097.1 1407.7 1111.1 1399.9 1115.2 C1390.9 1119.2 1390.9 1132.2 1398.5 1137.8 C1405.3 1142.3 1405.0 1156.3 1397.1 1160.4 C1388.1 1164.4 1388.1 1177.4 1395.8 1183.0 C1402.6 1187.5 1402.3 1201.5 1394.4 1205.6 L987.6 1256.1 C994.6 1249.1 998.0 1241.5 992.5 1233.5 C983.5 1227.5 985.9 1219.8 989.9 1210.8 C996.9 1203.8 1000.3 1196.2 994.8 1188.2 C985.8 1182.2 988.2 1174.6 992.2 1165.6 C999.2 1158.6 1002.6 1150.9 997.1 1142.9 C988.1 1136.9 990.6 1129.3 994.6 1120.3 C1001.6 1113.3 1005.0 1105.6 999.5 1097.6 C990.5 1091.6 992.9 1084.0 996.9 1075.0 C1003.9 1068.0 1007.3 1060.4 1001.8 1052.4 C992.8 1046.4 995.3 1038.7 999.3 1029.7 C1006.3 1022.7 1009.7 1015.1 1004.2 1007.1 C995.2 1001.1 997.6 993.4 1001.6 984.4 C1008.6 977.4 1012.0 969.8 1006.5 961.8 Z" fill="none" stroke="#161212" stroke-width="1.6" stroke-linejoin="round"/>
<circle cx="1017.3" cy="974.9" r="2.4" fill="#fff" stroke="#161212" stroke-width="1.3"/>
<circle cx="1409.2" cy="926.6" r="2.4" fill="#fff" stroke="#161212" stroke-width="1.3"/>
<circle cx="1015.0" cy="1020.2" r="2.4" fill="#fff" stroke="#161212" stroke-width="1.3"/>
<circle cx="1406.9" cy="971.7" r="2.4" fill="#fff" stroke="#161212" stroke-width="1.3"/>
<circle cx="1012.7" cy="1065.6" r="2.4" fill="#fff" stroke="#161212" stroke-width="1.3"/>
<circle cx="1404.6" cy="1016.8" r="2.4" fill="#fff" stroke="#161212" stroke-width="1.3"/>
<circle cx="1010.3" cy="1110.9" r="2.4" fill="#fff" stroke="#161212" stroke-width="1.3"/>
<circle cx="1402.4" cy="1061.9" r="2.4" fill="#fff" stroke="#161212" stroke-width="1.3"/>
<circle cx="1008.0" cy="1156.2" r="2.4" fill="#fff" stroke="#161212" stroke-width="1.3"/>
<circle cx="1400.1" cy="1107.0" r="2.4" fill="#fff" stroke="#161212" stroke-width="1.3"/>
<circle cx="1005.7" cy="1201.5" r="2.4" fill="#fff" stroke="#161212" stroke-width="1.3"/>
<circle cx="1397.8" cy="1152.1" r="2.4" fill="#fff" stroke="#161212" stroke-width="1.3"/>
<circle cx="1003.4" cy="1246.9" r="2.4" fill="#fff" stroke="#161212" stroke-width="1.3"/>
<circle cx="1395.5" cy="1197.2" r="2.4" fill="#fff" stroke="#161212" stroke-width="1.3"/>
<path d="M1314.1 819.5 L1284.9 832.2 L1254.9 844.2 Q1248 847 1246.5 851 Q1243.5 860 1242.2 868.9 Q1240 880 1239.5 886.9 Q1239 892 1240.2 896.5 Q1242 902 1244.4 907.9 L1249.7 919.9 L1254.5 930.7" fill="none" stroke="#161212" stroke-width="1.45" stroke-linecap="round" stroke-linejoin="round"/>
<path d="M1351.6 839.7 Q1344 845 1337.4 851 Q1328 858.5 1319.4 864.4 Q1310 870 1302.9 876.4 Q1294 882 1287.9 888.4 L1278.9 900.4 L1269.9 911.6 Q1266 917 1263.9 919.1 Q1261 922 1258.6 922.2 Q1255.6 922 1255.2 919.5 Q1254.6 917 1254.8 915 Q1255.5 911 1256.6 907.5 Q1258.5 901 1260.9 895.9 Q1264 889 1266.9 883.9 Q1269.5 878 1270.7 873.4 Q1271.8 868 1271.4 864.4" fill="none" stroke="#161212" stroke-width="1.45" stroke-linecap="round" stroke-linejoin="round"/>
<path d="M1260.9 867.4 L1268.6 871.8 L1258.7 874.6 Q1256.6 880 1255.7 886.9 Q1255.4 896 1257.2 903.4" fill="none" stroke="#161212" stroke-width="1.45" stroke-linecap="round" stroke-linejoin="round"/>
<path d="M1287.9 888.4 Q1294 892 1298.4 893.7 Q1302 894.8 1304.4 894.1 Q1307.5 892.5 1308.6 889.9 Q1310 887 1309.2 885.4 Q1308.5 883.5 1306.6 882.1 L1302.9 876.7" fill="none" stroke="#161212" stroke-width="1.45" stroke-linecap="round" stroke-linejoin="round"/>
<path d="M1300.6 886.8 Q1300.2 890.5 1301.4 891.5 Q1304 891.8 1305.9 890.6" fill="none" stroke="#161212" stroke-width="1.45" stroke-linecap="round" stroke-linejoin="round"/>
<path d="M1278.9 901.2 Q1282 902 1284.9 903.4 L1293.9 908.6 L1299.9 911.6 Q1301.8 909.5 1301.7 906.4 Q1301.5 903 1299.9 899.7 Q1296 895 1290.9 891.7" fill="none" stroke="#161212" stroke-width="1.45" stroke-linecap="round" stroke-linejoin="round"/>
<path d="M1291.6 904.9 Q1295 908.5 1298.4 910.1" fill="none" stroke="#161212" stroke-width="1.45" stroke-linecap="round" stroke-linejoin="round"/>
<path d="M1271.4 914.6 L1275.9 918.4 L1283.4 924.4 Q1285.5 925.6 1287.1 925.1 Q1288.7 923 1288.6 919.9 Q1288.3 917 1287.1 914.6 Q1284 909 1279.7 904.1" fill="none" stroke="#161212" stroke-width="1.45" stroke-linecap="round" stroke-linejoin="round"/>
<path d="M1278.2 918.4 Q1281.5 922 1284.9 923.6" fill="none" stroke="#161212" stroke-width="1.45" stroke-linecap="round" stroke-linejoin="round"/>
<path d="M1254.5 930.7 Q1257 931.4 1259.4 930.4 Q1261.5 928.5 1261.7 925.9 L1261 923.5" fill="none" stroke="#161212" stroke-width="1.45" stroke-linecap="round" stroke-linejoin="round"/>
<path d="M1257.8 908.5 Q1260.5 909.5 1263.5 912 Q1265.5 914.5 1266.8 915.5" fill="none" stroke="#161212" stroke-width="1.45" stroke-linecap="round" stroke-linejoin="round"/>
<clipPath id="fclip"><path d="M1053 1249 L1196 938.7 Q1203 934 1211.3 930 Q1220 925.5 1228.7 923.5 Q1240 922 1248 924.5 L1255.8 929.5 Q1264 927.5 1272.3 927.6 Q1284 927.4 1294.1 929.1 Q1303 930.5 1309.4 934.4 Q1316 945 1320.3 960.5 Q1327 980 1331.2 1004.1 Q1335.5 1035 1335.5 1065.1 Q1335.5 1100 1331.2 1130.5 Q1327 1157 1320.3 1178.5 L1310.7 1201.5 L1258 1177 Q1250 1173 1244 1171 Q1237 1168.4 1230 1168.4 Q1222 1168.4 1214 1170 Q1205 1172.5 1198 1177 Q1190 1182 1186 1188 Q1182 1196 1181 1204 Q1180.5 1212 1180 1218 Q1178 1227 1174 1232 Q1168 1237 1160 1240 Q1146 1246 1130 1249 Q1110 1251.5 1090 1251 Q1070 1251 1053 1249 Z"/></clipPath>
<path d="M1053 1249 L1196 938.7 Q1203 934 1211.3 930 Q1220 925.5 1228.7 923.5 Q1240 922 1248 924.5 L1255.8 929.5 Q1264 927.5 1272.3 927.6 Q1284 927.4 1294.1 929.1 Q1303 930.5 1309.4 934.4 Q1316 945 1320.3 960.5 Q1327 980 1331.2 1004.1 Q1335.5 1035 1335.5 1065.1 Q1335.5 1100 1331.2 1130.5 Q1327 1157 1320.3 1178.5 L1310.7 1201.5 L1258 1177 Q1250 1173 1244 1171 Q1237 1168.4 1230 1168.4 Q1222 1168.4 1214 1170 Q1205 1172.5 1198 1177 Q1190 1182 1186 1188 Q1182 1196 1181 1204 Q1180.5 1212 1180 1218 Q1178 1227 1174 1232 Q1168 1237 1160 1240 Q1146 1246 1130 1249 Q1110 1251.5 1090 1251 Q1070 1251 1053 1249 Z" fill="#dadada"/>
<g clip-path="url(#fclip)">
<line x1="1006.5" y1="961.8" x2="1412.1" y2="911.8" stroke="#777" stroke-width="1.5"/>
<line x1="1001.6" y1="984.4" x2="1410.7" y2="934.4" stroke="#777" stroke-width="1.5"/>
<line x1="1004.2" y1="1007.1" x2="1409.4" y2="957.0" stroke="#777" stroke-width="1.5"/>
<line x1="999.3" y1="1029.7" x2="1408.0" y2="979.6" stroke="#777" stroke-width="1.5"/>
<line x1="1001.8" y1="1052.4" x2="1406.7" y2="1002.2" stroke="#777" stroke-width="1.5"/>
<line x1="996.9" y1="1075.0" x2="1405.3" y2="1024.8" stroke="#777" stroke-width="1.5"/>
<line x1="999.5" y1="1097.6" x2="1403.9" y2="1047.4" stroke="#777" stroke-width="1.5"/>
<line x1="994.6" y1="1120.3" x2="1402.6" y2="1070.0" stroke="#777" stroke-width="1.5"/>
<line x1="997.1" y1="1142.9" x2="1401.2" y2="1092.6" stroke="#777" stroke-width="1.5"/>
<line x1="992.2" y1="1165.6" x2="1399.9" y2="1115.2" stroke="#777" stroke-width="1.5"/>
<line x1="994.8" y1="1188.2" x2="1398.5" y2="1137.8" stroke="#777" stroke-width="1.5"/>
<line x1="989.9" y1="1210.8" x2="1397.1" y2="1160.4" stroke="#777" stroke-width="1.5"/>
<line x1="992.5" y1="1233.5" x2="1395.8" y2="1183.0" stroke="#777" stroke-width="1.5"/>
<line x1="987.6" y1="1256.1" x2="1394.4" y2="1205.6" stroke="#777" stroke-width="1.5"/>
<path d="M1249.7 919.9 L1254.5 930.7 Q1257 931.4 1259.4 930.4 L1261.7 925.9" fill="none" stroke="#8a8a8a" stroke-width="1"/>
</g>
<path d="M1053 1249 L1196 938.7 Q1203 934 1211.3 930 Q1220 925.5 1228.7 923.5 Q1240 922 1248 924.5 L1255.8 929.5 Q1264 927.5 1272.3 927.6 Q1284 927.4 1294.1 929.1 Q1303 930.5 1309.4 934.4 Q1316 945 1320.3 960.5 Q1327 980 1331.2 1004.1 Q1335.5 1035 1335.5 1065.1 Q1335.5 1100 1331.2 1130.5 Q1327 1157 1320.3 1178.5 L1310.7 1201.5 L1258 1177 Q1250 1173 1244 1171 Q1237 1168.4 1230 1168.4 Q1222 1168.4 1214 1170 Q1205 1172.5 1198 1177 Q1190 1182 1186 1188 Q1182 1196 1181 1204 Q1180.5 1212 1180 1218 Q1178 1227 1174 1232 Q1168 1237 1160 1240 Q1146 1246 1130 1249 Q1110 1251.5 1090 1251 Q1070 1251 1053 1249 Z" fill="none" stroke="#6a6a6a" stroke-width="1.0"/>
<line x1="1053" y1="1249" x2="1196" y2="938.7" stroke="#161212" stroke-width="1.7"/>
</g>
<circle cx="877.55" cy="309.3" r="132.75" fill="#fff" stroke="#2a7026" stroke-width="2.4"/>
<circle cx="1273.65" cy="309.3" r="132.75" fill="#fff" stroke="#2a7026" stroke-width="2.4"/>
<defs>
<linearGradient id="g1w" x1="0" y1="0" x2="0.25" y2="1"><stop offset="0" stop-color="#bdbdbd"/><stop offset=".22" stop-color="#3c3c3c"/><stop offset=".3" stop-color="#f4f4f4"/><stop offset=".62" stop-color="#bcbcbc"/><stop offset=".86" stop-color="#8a8a8a"/><stop offset="1" stop-color="#1e1e1e"/></linearGradient>
<linearGradient id="g1r" x1="0" y1="0" x2="1" y2=".3"><stop offset="0" stop-color="#8c8c8c"/><stop offset=".2" stop-color="#f0f0f0"/><stop offset=".45" stop-color="#9c9c9c"/><stop offset=".7" stop-color="#e4e4e4"/><stop offset="1" stop-color="#555"/></linearGradient>
<linearGradient id="g1t" x1="0" y1="0" x2="1" y2="0"><stop offset="0" stop-color="#d2d2d2"/><stop offset=".55" stop-color="#a4a4a4"/><stop offset=".62" stop-color="#e0e0e0"/><stop offset="1" stop-color="#7c7c7c"/></linearGradient>
<linearGradient id="g2v" x1="0" y1="0" x2="1" y2="0"><stop offset="0" stop-color="#5a5a5a"/><stop offset=".18" stop-color="#b8b8b8"/><stop offset=".4" stop-color="#8e8e8e"/><stop offset=".58" stop-color="#6e6e6e"/><stop offset=".62" stop-color="#f2f2f2"/><stop offset=".85" stop-color="#d8d8d8"/><stop offset="1" stop-color="#9a9a9a"/></linearGradient>
<linearGradient id="g2r" x1="0" y1="0" x2=".6" y2="1"><stop offset="0" stop-color="#efefef"/><stop offset=".3" stop-color="#b8b8b8"/><stop offset=".55" stop-color="#efefef"/><stop offset=".75" stop-color="#3a3a3a"/><stop offset=".88" stop-color="#1c1c1c"/><stop offset="1" stop-color="#cfcfcf"/></linearGradient>
<linearGradient id="g2w" x1="0" y1="0" x2="0" y2="1"><stop offset="0" stop-color="#f6f6f6"/><stop offset=".25" stop-color="#d4d4d4"/><stop offset=".8" stop-color="#e4e4e4"/><stop offset="1" stop-color="#8a8a8a"/></linearGradient>
<linearGradient id="g3l" x1=".7" y1="0" x2=".2" y2="1"><stop offset="0" stop-color="#e6e6e6"/><stop offset=".3" stop-color="#fafafa"/><stop offset=".6" stop-color="#8c8c8c"/><stop offset=".85" stop-color="#161616"/><stop offset="1" stop-color="#3c3c3c"/></linearGradient>
<linearGradient id="g3d" x1="0" y1="0" x2="0" y2="1"><stop offset="0" stop-color="#f4f4f4"/><stop offset=".25" stop-color="#e2e2e2"/><stop offset=".6" stop-color="#8c8c8c"/><stop offset=".92" stop-color="#3e3e3e"/><stop offset="1" stop-color="#d0d0d0"/></linearGradient>
<linearGradient id="g3r" x1="0" y1="0" x2="1" y2=".6"><stop offset="0" stop-color="#2a2a2a"/><stop offset=".2" stop-color="#dcdcdc"/><stop offset=".4" stop-color="#5a5a5a"/><stop offset=".55" stop-color="#eaeaea"/><stop offset=".75" stop-color="#2c2c2c"/><stop offset="1" stop-color="#9a9a9a"/></linearGradient>
<linearGradient id="mD" x1="0" y1="0" x2="1" y2="0"><stop offset="0" stop-color="#6a6a6a"/><stop offset=".2" stop-color="#b8b8b8"/><stop offset=".45" stop-color="#f0f0f0"/><stop offset=".75" stop-color="#a0a0a0"/><stop offset="1" stop-color="#666"/></linearGradient>
<linearGradient id="mH" x1="0" y1="0" x2="1" y2="0"><stop offset="0" stop-color="#7a7a7a"/><stop offset=".25" stop-color="#cfcfcf"/><stop offset=".5" stop-color="#e6e6e6"/><stop offset=".8" stop-color="#a8a8a8"/><stop offset="1" stop-color="#6e6e6e"/></linearGradient>
<radialGradient id="mE" cx=".42" cy=".38" r=".7"><stop offset="0" stop-color="#f0f0f0"/><stop offset=".5" stop-color="#c0c0c0"/><stop offset=".85" stop-color="#8a8a8a"/><stop offset="1" stop-color="#5e5e5e"/></radialGradient>
<linearGradient id="mC" x1="0" y1="0" x2="0" y2="1"><stop offset="0" stop-color="#e4e4e4"/><stop offset=".5" stop-color="#a0a0a0"/><stop offset="1" stop-color="#5c5c5c"/></linearGradient>
<pattern id="thr" width="8" height="5.9" patternUnits="userSpaceOnUse"><rect y="0" width="8" height="2.4" fill="#3c3c3c" fill-opacity=".55"/><rect y="3.4" width="8" height="1.5" fill="#fff" fill-opacity=".55"/></pattern>
</defs>
<path d="M846.0 246.2 L864.6 238.9 Q873.7 244.9 875.9 253.6 Q877.2 264.0 870.3 277.9 L857.3 270.1 Z" fill="url(#g1t)" stroke="#4a4a4a" stroke-width="0.5" stroke-linejoin="round"/>
<path d="M762.8 296.9 Q765.4 290.9 772.3 287.4 L810.5 280.9 L817.4 284.8 L820.9 299.5 L803.5 308.6 L766.3 310.4 Q762.4 303.0 762.8 296.9 Z" fill="url(#g1w)" stroke="#4a4a4a" stroke-width="0.5" stroke-linejoin="round"/>
<ellipse cx="840.4" cy="278.7" rx="31.6" ry="29.5" transform="rotate(-35 840.4 278.7)" fill="url(#g1r)" stroke="#4a4a4a" stroke-width="0.5"/>
<ellipse cx="839.5" cy="279.6" rx="25.1" ry="23.4" transform="rotate(-35 839.5 279.6)" fill="#dedede" stroke="#7a7a7a" stroke-width="0.6"/>
<path d="M815.7 268.3 L820.9 257.9 L833.0 250.1 L850.3 249.3 L861.6 255.3" fill="none" stroke="#555" stroke-width="1.2" stroke-linecap="round" stroke-linejoin="round"/>
<path d="M820.9 301.3 L833.0 309.5 L850.3 308.2 L862.5 299.5 L868.5 285.7" fill="none" stroke="#444" stroke-width="1.0" stroke-linecap="round" stroke-linejoin="round"/>
<ellipse cx="840.4" cy="280.5" rx="14.3" ry="17.8" transform="rotate(20 840.4 280.5)" fill="#fff" stroke="#8a8a8a" stroke-width="0.7"/>
<path d="M846.9 264.9 Q859.0 273.5 854.7 290.9 Q852.1 294.3 849.5 293.5 Q854.7 280.5 846.9 264.9 Z" fill="#6a6a6a" stroke="none" stroke-width="0" stroke-linejoin="round"/>
<path d="M852.1 277.0 L854.7 283.9 L852.9 289.1" fill="none" stroke="#1a1a1a" stroke-width="1.3" stroke-linecap="round" stroke-linejoin="round"/>
<path d="M887.8 221.0 L896.4 217.8 L916.4 224.6 L916.0 263.1 L905.3 267.6 L891.4 279.5 Q887.0 250.9 887.8 221.0 Z" fill="url(#g2v)" stroke="#4a4a4a" stroke-width="0.5" stroke-linejoin="round"/>
<path d="M896.4 217.8 L916.4 224.6 L907.0 227.6 L889.0 221.4 Z" fill="#d9d9d9" stroke="#777" stroke-width="0.5" stroke-linejoin="round"/>
<path d="M932.3 308.1 L961.8 291.8 L972.4 288.5 L982.6 315.1 L975.7 320.8 L942.1 324.5 L932.3 320.0 Z" fill="url(#g2w)" stroke="#4a4a4a" stroke-width="0.5" stroke-linejoin="round"/>
<path d="M965.0 292.6 L972.4 288.5 L982.6 315.1 L975.7 320.8 Z" fill="#b4b4b4" stroke="#6a6a6a" stroke-width="0.5" stroke-linejoin="round"/>
<ellipse cx="920.1" cy="292.6" rx="32.7" ry="25.8" transform="rotate(28 920.1 292.6)" fill="url(#g2r)" stroke="#4a4a4a" stroke-width="0.5"/>
<ellipse cx="922.5" cy="288.5" rx="24.5" ry="17.6" transform="rotate(22 922.5 288.5)" fill="#e8e8e8" stroke="#777" stroke-width="0.5"/>
<ellipse cx="923.3" cy="287.7" rx="20.9" ry="15.1" transform="rotate(22 923.3 287.7)" fill="#8a8a8a" stroke="#555" stroke-width="0.5"/>
<ellipse cx="918.4" cy="292.6" rx="15.5" ry="10.6" transform="rotate(22 918.4 292.6)" fill="#fff" stroke="none" stroke-width="0"/>
<path d="M907.0 277.0 L916.8 274.6 L928.2 277.9" fill="none" stroke="#333" stroke-width="1.2" stroke-linecap="round" stroke-linejoin="round"/>
<path d="M907.8 281.1 L918.4 278.7 L929.1 282.0" fill="none" stroke="#d0d0d0" stroke-width="0.9" stroke-linecap="round" stroke-linejoin="round"/>
<path d="M909.4 284.8 L919.2 282.8 L929.1 285.6" fill="none" stroke="#3a3a3a" stroke-width="1.0" stroke-linecap="round" stroke-linejoin="round"/>
<path d="M922.5 278.7 L929.9 280.3 L928.2 289.7 L920.9 286.9 Z" fill="#1a1a1a" stroke="none" stroke-width="0" stroke-linejoin="round"/>
<path d="M890.6 280.3 Q892.3 272.1 900.4 274.6 Q893.9 283.6 907.0 299.9 Q919.2 310.6 932.3 308.1 L932.3 319.6 Q911.1 318.7 898.8 304.0 Q889.8 292.6 890.6 280.3 Z" fill="#1f1f1f" stroke="none" stroke-width="0" stroke-linejoin="round"/>
<path d="M892.3 283.6 Q896.4 296.7 907.0 306.5 Q918.4 314.7 931.5 315.5 L932.3 320.0 Q911.1 319.6 898.8 304.8 Q890.6 293.4 890.6 282.0 Z" fill="#c9c9c9" stroke="none" stroke-width="0" stroke-linejoin="round"/>
<path d="M802.9 347.0 L847.3 320.4 L856.2 324.1 L855.2 348.9 L819.5 374.8 L813.7 367.1 Z" fill="url(#g3l)" stroke="#4a4a4a" stroke-width="0.5" stroke-linejoin="round"/>
<path d="M815.1 367.4 L854.8 347.0" fill="none" stroke="#e8e8e8" stroke-width="1.6" stroke-linecap="round" stroke-linejoin="round"/>
<path d="M896.8 357.8 L910.3 337.7 Q920.1 351.7 927.6 379.7 L929.6 404.0 L897.7 408.2 Q894.0 379.7 896.8 357.8 Z" fill="url(#g3d)" stroke="#4a4a4a" stroke-width="0.5" stroke-linejoin="round"/>
<path d="M910.3 337.7 Q920.1 351.7 927.6 379.7 L929.6 404.0 L924.3 398.4 Q922.0 370.4 908.4 342.3 Z" fill="#d6d6d6" stroke="#777" stroke-width="0.4" stroke-linejoin="round"/>
<path d="M897.0 402.1 L929.5 398.8 L929.6 404.0 L897.7 408.2 Z" fill="#e9e9e9" stroke="#666" stroke-width="0.4" stroke-linejoin="round"/>
<path d="M851.0 325.1 Q854.8 315.3 864.1 313.9 Q888.4 319.0 908.4 336.7 Q910.8 345.1 901.4 353.6 Q890.2 362.9 875.3 357.3 Q859.4 349.8 852.4 341.4 Q850.1 333.0 851.0 325.1 Z" fill="url(#g3r)" stroke="#4a4a4a" stroke-width="0.5" stroke-linejoin="round"/>
<path d="M854.8 327.4 Q879.0 328.3 907.0 342.3 Q903.3 349.8 896.8 353.6 Q875.3 340.5 855.7 335.8 Z" fill="#1c1c1c" stroke="none" stroke-width="0" stroke-linejoin="round"/>
<path d="M855.7 336.3 Q875.3 340.9 896.3 354.0 Q888.4 361.0 876.2 356.4 Q862.2 349.8 856.6 342.3 Z" fill="#8e8e8e" stroke="none" stroke-width="0" stroke-linejoin="round"/>
<path d="M860.4 340.5 L873.4 346.1 L884.6 353.6" fill="none" stroke="#e8e8e8" stroke-width="1.4" stroke-linecap="round" stroke-linejoin="round"/>
<path d="M862.2 344.2 L875.3 351.7 L888.4 357.3" fill="none" stroke="#222" stroke-width="1.4" stroke-linecap="round" stroke-linejoin="round"/>
<path d="M855.7 319.0 L879.0 322.7 L905.2 337.7" fill="none" stroke="#f2f2f2" stroke-width="1.8" stroke-linecap="round" stroke-linejoin="round"/>
<path d="M1231.3 351.1 L1247.6 354.2 L1251.7 364.4 L1250.7 378.7 L1235.4 384.8 Z" fill="url(#mC)" stroke="#555" stroke-width="0.5" stroke-linejoin="round"/>
<ellipse cx="1204.7" cy="362.3" rx="35.2" ry="37.2" transform="rotate(0 1204.7 362.3)" fill="url(#mE)" stroke="#666" stroke-width="0.6"/>
<path d="M1192.4 343.9 L1201.6 341.9 L1203.7 354.2 L1214.9 356.2 L1215.9 364.4 L1203.7 365.4 L1201.6 379.7 L1193.5 379.7 L1192.4 366.4 L1179.2 364.4 L1178.5 356.2 L1191.4 355.2 Z" fill="#7c7c7c" stroke="#555" stroke-width="0.5" stroke-linejoin="round"/>
<path d="M1195.5 350.1 L1199.6 349.0 L1201.0 358.2 L1210.8 359.3 L1211.2 362.3 L1201.0 362.7 L1199.0 374.6 L1195.5 374.6 L1195.1 363.4 L1183.2 362.3 L1182.8 358.7 L1194.9 357.8 Z" fill="#3c3c3c" stroke="none" stroke-width="0" stroke-linejoin="round"/>
<rect x="1257.8" y="265.3" width="39.9" height="127.7" rx="3" fill="url(#mD)" stroke="#6a6a6a" stroke-width=".5"/>
<rect x="1257.8" y="270.3" width="39.9" height="120.7" fill="url(#thr)"/>
<path d="M1240.5 256.1 Q1241.5 233.6 1277.3 231.1 Q1313.0 233.6 1314.0 256.1 Q1308.9 266.3 1277.3 267.3 Q1245.6 266.3 1240.5 256.1 Z" fill="url(#mH)" stroke="#666" stroke-width="0.5" stroke-linejoin="round"/>
<ellipse cx="1277.3" cy="237.7" rx="24.5" ry="5.3" transform="rotate(0 1277.3 237.7)" fill="#dcdcdc" stroke="none" stroke-width="0"/>
<path d="M1268.1 236.0 L1277.3 233.6 L1286.5 236.0" fill="none" stroke="#8a8a8a" stroke-width="1.0" stroke-linecap="round" stroke-linejoin="round"/>
<rect x="1323.7" y="266.3" width="39.4" height="98.1" rx="4" fill="url(#mD)" stroke="#6a6a6a" stroke-width=".5"/>
<rect x="1323.7" y="269.3" width="39.4" height="86.1" fill="url(#thr)"/>
<path d="M1305.9 376.6 Q1308.9 362.3 1342.7 361.3 Q1376.4 362.3 1379.4 376.6 Q1377.4 395.0 1342.7 396.1 Q1307.9 395.0 1305.9 376.6 Z" fill="url(#mH)" stroke="#666" stroke-width="0.5" stroke-linejoin="round"/>
<ellipse cx="1342.7" cy="365.0" rx="30.7" ry="4.1" transform="rotate(0 1342.7 365.0)" fill="#ededed" stroke="none" stroke-width="0"/>
<circle cx="693.9" cy="432.1" r="20.2" fill="none" stroke="#2a7026" stroke-width="2.8" stroke-dasharray="0.1 7.83" stroke-linecap="round"/>
<line x1="709" y1="419" x2="769" y2="391" stroke="#2a7026" stroke-width="2.1" stroke-dasharray="10 7"/>
<circle cx="1154.5" cy="592.9" r="19.8" fill="none" stroke="#2a7026" stroke-width="2.8" stroke-dasharray="0.1 7.68" stroke-linecap="round"/>
<line x1="1161.5" y1="574.5" x2="1232" y2="437" stroke="#2a7026" stroke-width="2.1" stroke-dasharray="10 7"/>
<rect x="660.5" y="470.5" width="835" height="50" rx="11" fill="#2a8a23"/>
<g font-family="Liberation Sans, sans-serif" font-size="37.2" fill="#ecffe8" stroke="#2a8a23" stroke-width="0.9">
<text id="lb0" x="673.7" y="505.8" textLength="79.8" lengthAdjust="spacingAndGlyphs">Wing</text>
<text id="lb1" x="758.3" y="505.8" textLength="68.8" lengthAdjust="spacingAndGlyphs">nuts</text>
<text id="lb2" x="833.8" y="505.8" textLength="57.4" lengthAdjust="spacingAndGlyphs">and</text>
<text id="lb3" x="897.3" y="505.8" textLength="96.6" lengthAdjust="spacingAndGlyphs">sturdy</text>
<text id="lb4" x="1001.5" y="505.8" textLength="109.1" lengthAdjust="spacingAndGlyphs">screws</text>
<text id="lb5" x="1117.5" y="505.8" textLength="106.9" lengthAdjust="spacingAndGlyphs">ensure</text>
<text id="lb6" x="1232.5" y="505.8" textLength="65.0" lengthAdjust="spacingAndGlyphs">firm</text>
<text id="lb7" x="1303.5" y="505.8" textLength="184.5" lengthAdjust="spacingAndGlyphs">connection.</text>
</g>
<rect x="86" y="2.8" width="1314" height="127.4" rx="19.5" fill="#2a8a23"/>
<g font-family="Liberation Sans, sans-serif" fill="#fff">
<text id="bn0" x="125" y="99.0" font-size="87.5" stroke="#2a8a23" stroke-width="2.2" textLength="277" lengthAdjust="spacingAndGlyphs">Built for</text>
<text id="bn1" x="415" y="98.0" font-size="85.5" font-weight="bold" stroke="#fff" stroke-width="1.0" textLength="303" lengthAdjust="spacingAndGlyphs">Stability</text>
<path d="M747.5 91 h6.4 v7 l-5 10.5 h-3.8 l2.4 -10.5 z" fill="#fff"/>
<text id="bn2" x="776" y="99.0" font-size="87.5" stroke="#2a8a23" stroke-width="2.2" textLength="413" lengthAdjust="spacingAndGlyphs">Designed to</text>
<text id="bn3" x="1203" y="98.0" font-size="85.5" font-weight="bold" stroke="#fff" stroke-width="1.0" textLength="165" lengthAdjust="spacingAndGlyphs">Last</text>
</g>

<rect x="63" y="1381" width="15" height="41" rx="5" fill="#2a8a23"/>
<g font-family="Liberation Sans, sans-serif" font-style="italic" font-size="35" fill="#27801f">
<text id="w0_0" x="80.0" y="1414.7" textLength="63.0" lengthAdjust="spacingAndGlyphs">This</text>
<text id="w0_1" x="153.2" y="1414.7" textLength="114.0" lengthAdjust="spacingAndGlyphs">product</text>
<text id="w0_2" x="279.8" y="1414.7" textLength="125.2" lengthAdjust="spacingAndGlyphs">features</text>
<text id="w0_3" x="415.0" y="1414.7" textLength="17.8" lengthAdjust="spacingAndGlyphs">a</text>
<text id="w0_4" x="444.2" y="1414.7" textLength="151.8" lengthAdjust="spacingAndGlyphs">protective</text>
<text id="w0_5" x="605.2" y="1414.7" textLength="55.8" lengthAdjust="spacingAndGlyphs">film</text>
<text id="w0_6" x="670.8" y="1414.7" textLength="126.0" lengthAdjust="spacingAndGlyphs">covering</text>
<text id="w0_7" x="807.2" y="1414.7" textLength="47.0" lengthAdjust="spacingAndGlyphs">the</text>
<text id="w0_8" x="864.8" y="1414.7" textLength="77.4" lengthAdjust="spacingAndGlyphs">outer</text>
<text id="w0_9" x="955.0" y="1414.7" textLength="99.2" lengthAdjust="spacingAndGlyphs">layerof</text>
<text id="w0_10" x="1067.2" y="1414.7" textLength="47.0" lengthAdjust="spacingAndGlyphs">the</text>
<text id="w0_11" x="1124.0" y="1414.7" textLength="105.2" lengthAdjust="spacingAndGlyphs">garden</text>
<text id="w0_12" x="1239.0" y="1414.7" textLength="164.8" lengthAdjust="spacingAndGlyphs">bed.Before</text>
<text id="w1_0" x="402.2" y="1457.3" textLength="178.6" lengthAdjust="spacingAndGlyphs">installation,</text>
<text id="w1_1" x="591.0" y="1457.3" textLength="96.8" lengthAdjust="spacingAndGlyphs">please</text>
<text id="w1_2" x="698.2" y="1457.3" textLength="126.0" lengthAdjust="spacingAndGlyphs">carefully</text>
<text id="w1_3" x="838.2" y="1457.3" textLength="60.8" lengthAdjust="spacingAndGlyphs">peel</text>
<text id="w1_4" x="909.8" y="1457.3" textLength="97.0" lengthAdjust="spacingAndGlyphs">offthis</text>
<text id="w1_5" x="1016.2" y="1457.3" textLength="67.8" lengthAdjust="spacingAndGlyphs">film.</text>
</g>
</svg>
</body></html>
